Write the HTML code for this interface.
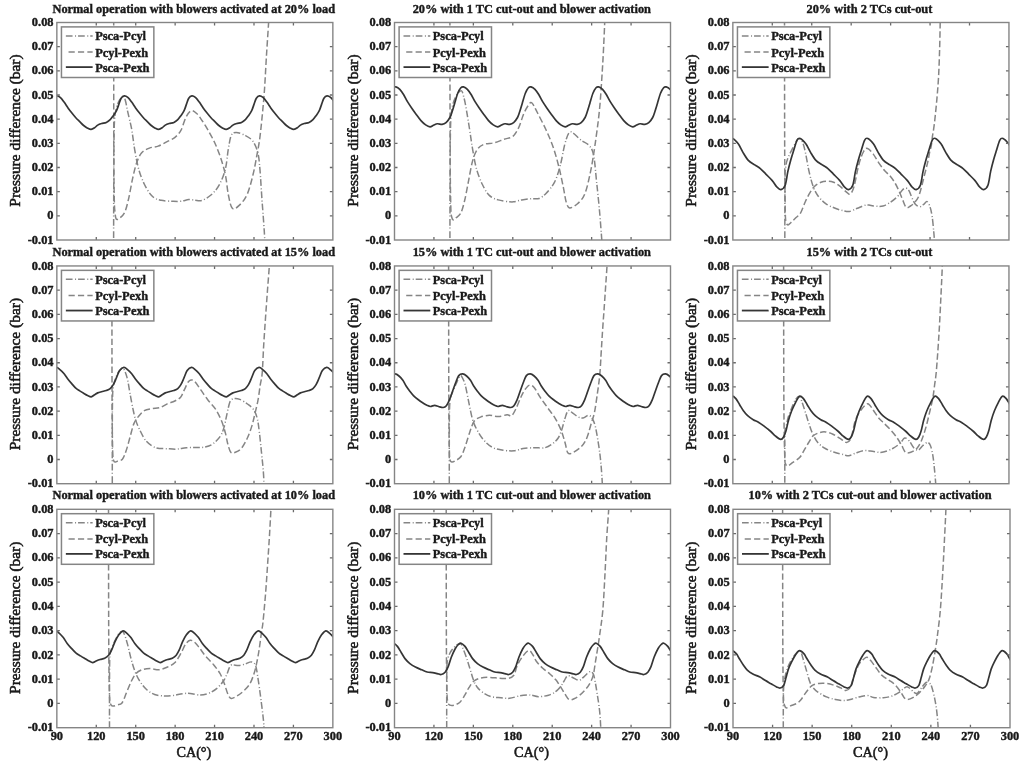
<!DOCTYPE html>
<html><head><meta charset="utf-8"><style>
html,body{margin:0;padding:0;background:#fff;width:1024px;height:761px;overflow:hidden}
svg{display:block}
text{fill:#1a1a1a;stroke:#1a1a1a;stroke-width:0.4px}
</style></head><body>
<svg width="1024" height="761" viewBox="0 0 1024 761" style="font-family:'Liberation Serif',serif;font-weight:bold">
<defs><filter id="bl" filterUnits="userSpaceOnUse" x="0" y="0" width="1024" height="761"><feGaussianBlur stdDeviation="0.6"/></filter></defs>
<rect width="1024" height="761" fill="#fff"/>
<g filter="url(#bl)">
<clipPath id="c0"><rect x="56.85" y="22.50" width="276.00" height="217.50"/></clipPath>
<text x="193.80" y="12.50" text-anchor="middle" font-size="12.33">Normal operation with blowers activated at 20% load</text>
<text x="53.55" y="26.10" text-anchor="end" font-size="12.4">0.08</text>
<text x="53.55" y="50.27" text-anchor="end" font-size="12.4">0.07</text>
<text x="53.55" y="74.43" text-anchor="end" font-size="12.4">0.06</text>
<text x="53.55" y="98.60" text-anchor="end" font-size="12.4">0.05</text>
<text x="53.55" y="122.77" text-anchor="end" font-size="12.4">0.04</text>
<text x="53.55" y="146.93" text-anchor="end" font-size="12.4">0.03</text>
<text x="53.55" y="171.10" text-anchor="end" font-size="12.4">0.02</text>
<text x="53.55" y="195.27" text-anchor="end" font-size="12.4">0.01</text>
<text x="53.55" y="219.43" text-anchor="end" font-size="12.4">0</text>
<text x="53.55" y="243.60" text-anchor="end" font-size="12.4">-0.01</text>
<text transform="translate(20.25,130.55) rotate(-90)" text-anchor="middle" font-size="15.45" font-weight="normal" style="stroke-width:0.55px">Pressure difference (bar)</text>
<g clip-path="url(#c0)">
<path d="M113.70,10.00 C113.72,33.33 113.70,118.33 113.80,150.00 C113.90,181.67 114.10,189.67 114.30,200.00 C114.50,210.33 114.68,208.83 115.00,212.00 C115.32,215.17 115.40,218.00 116.20,219.00 C117.00,220.00 118.37,219.15 119.80,218.00 C121.23,216.85 123.32,215.38 124.80,212.10 C126.28,208.82 127.40,203.88 128.70,198.30 C130.00,192.72 131.28,184.50 132.60,178.60 C133.92,172.70 135.12,167.17 136.60,162.90 C138.08,158.63 139.37,155.47 141.50,153.00 C143.63,150.53 146.62,149.25 149.40,148.10 C152.18,146.95 155.25,147.18 158.20,146.10 C161.15,145.02 164.30,143.07 167.10,141.60 C169.90,140.13 172.70,139.17 175.00,137.30 C177.30,135.43 179.10,133.68 180.90,130.40 C182.70,127.12 184.08,120.88 185.80,117.60 C187.52,114.32 189.33,111.33 191.20,110.70 C193.07,110.07 195.20,112.17 197.00,113.80 C198.80,115.43 200.23,117.90 202.00,120.50 C203.77,123.10 205.52,125.77 207.60,129.40 C209.68,133.03 212.37,137.68 214.50,142.30 C216.63,146.92 218.58,151.68 220.40,157.10 C222.22,162.52 224.08,168.57 225.40,174.80 C226.72,181.03 227.15,188.92 228.30,194.50 C229.45,200.08 230.48,206.48 232.30,208.30 C234.12,210.12 236.73,207.70 239.20,205.40 C241.67,203.10 244.80,199.60 247.10,194.50 C249.40,189.40 251.37,181.37 253.00,174.80 C254.63,168.23 255.75,161.35 256.90,155.10 C258.05,148.85 258.92,144.87 259.90,137.30 C260.88,129.73 262.02,117.92 262.80,109.70 C263.58,101.48 263.98,97.12 264.60,88.00 C265.22,78.88 265.83,65.92 266.50,55.00 C267.17,44.08 268.18,30.00 268.60,22.50 C269.02,15.00 268.93,12.08 269.00,10.00" fill="none" stroke="#858585" stroke-width="1.5" stroke-dasharray="6.4 2.9"/>
<path d="M113.60,250.00 C113.62,241.67 113.65,216.67 113.70,200.00 C113.75,183.33 113.80,162.50 113.90,150.00 C114.00,137.50 114.07,131.17 114.30,125.00 C114.53,118.83 114.77,116.42 115.30,113.00 C115.83,109.58 116.67,106.83 117.50,104.50 C118.33,102.17 119.28,100.28 120.30,99.00 C121.32,97.72 122.73,96.47 123.60,96.80 C124.47,97.13 124.82,98.52 125.50,101.00 C126.18,103.48 126.67,106.97 127.70,111.70 C128.73,116.43 130.55,123.17 131.70,129.40 C132.85,135.63 133.45,142.53 134.60,149.10 C135.75,155.67 136.95,162.90 138.60,168.80 C140.25,174.70 142.22,179.92 144.50,184.50 C146.78,189.08 149.52,193.67 152.30,196.30 C155.08,198.93 157.75,199.47 161.20,200.30 C164.65,201.13 169.72,201.13 173.00,201.30 C176.28,201.47 178.27,201.58 180.90,201.30 C183.53,201.02 186.45,199.78 188.80,199.60 C191.15,199.42 192.85,200.05 195.00,200.20 C197.15,200.35 198.93,201.45 201.70,200.50 C204.47,199.55 208.65,197.13 211.60,194.50 C214.55,191.87 217.10,188.97 219.40,184.70 C221.70,180.43 223.92,174.82 225.40,168.90 C226.88,162.98 227.32,154.78 228.30,149.20 C229.28,143.62 229.98,138.20 231.30,135.40 C232.62,132.60 233.90,132.40 236.20,132.40 C238.50,132.40 242.30,133.92 245.10,135.40 C247.90,136.88 250.87,138.35 253.00,141.30 C255.13,144.25 256.75,148.50 257.90,153.10 C259.05,157.70 259.23,161.33 259.90,168.90 C260.57,176.47 261.25,189.30 261.90,198.50 C262.55,207.70 263.32,217.18 263.80,224.10 C264.28,231.02 264.57,235.68 264.80,240.00 C265.03,244.32 265.13,248.33 265.20,250.00" fill="none" stroke="#858585" stroke-width="1.5" stroke-dasharray="6.7 2.5 1 2"/>
<path d="M42.61,119.60 C43.13,118.95 44.66,117.18 45.71,115.70 C46.76,114.22 47.99,112.58 48.91,110.70 C49.83,108.82 50.44,106.48 51.21,104.40 C51.99,102.32 52.64,99.63 53.56,98.20 C54.48,96.77 55.60,95.93 56.71,95.80 C57.82,95.67 58.98,96.35 60.21,97.40 C61.44,98.45 62.81,100.35 64.11,102.10 C65.41,103.85 66.71,106.08 68.01,107.90 C69.31,109.72 70.61,111.37 71.91,113.00 C73.21,114.63 74.51,116.27 75.81,117.70 C77.11,119.13 78.40,120.30 79.71,121.60 C81.01,122.90 82.34,124.40 83.66,125.50 C84.97,126.60 86.36,127.55 87.61,128.20 C88.85,128.85 89.94,129.47 91.10,129.40 C92.27,129.33 93.50,128.52 94.60,127.80 C95.70,127.08 96.54,125.82 97.70,125.10 C98.87,124.38 100.17,123.95 101.60,123.50 C103.04,123.05 104.87,123.05 106.30,122.40 C107.74,121.75 109.04,120.72 110.20,119.60 C111.37,118.48 112.25,117.18 113.30,115.70 C114.35,114.22 115.58,112.58 116.50,110.70 C117.42,108.82 118.03,106.48 118.80,104.40 C119.58,102.32 120.23,99.63 121.15,98.20 C122.07,96.77 123.19,95.93 124.30,95.80 C125.41,95.67 126.57,96.35 127.80,97.40 C129.03,98.45 130.40,100.35 131.70,102.10 C133.00,103.85 134.30,106.08 135.60,107.90 C136.90,109.72 138.20,111.37 139.50,113.00 C140.80,114.63 142.10,116.27 143.40,117.70 C144.70,119.13 145.99,120.30 147.30,121.60 C148.60,122.90 149.93,124.40 151.25,125.50 C152.56,126.60 153.95,127.55 155.20,128.20 C156.44,128.85 157.53,129.47 158.69,129.40 C159.86,129.33 161.09,128.52 162.19,127.80 C163.29,127.08 164.13,125.82 165.29,125.10 C166.46,124.38 167.76,123.95 169.19,123.50 C170.63,123.05 172.46,123.05 173.89,122.40 C175.33,121.75 176.63,120.72 177.79,119.60 C178.96,118.48 179.84,117.18 180.89,115.70 C181.94,114.22 183.17,112.58 184.09,110.70 C185.01,108.82 185.62,106.48 186.39,104.40 C187.17,102.32 187.82,99.63 188.74,98.20 C189.66,96.77 190.78,95.93 191.89,95.80 C193.00,95.67 194.16,96.35 195.39,97.40 C196.62,98.45 197.99,100.35 199.29,102.10 C200.59,103.85 201.89,106.08 203.19,107.90 C204.49,109.72 205.79,111.37 207.09,113.00 C208.39,114.63 209.69,116.27 210.99,117.70 C212.29,119.13 213.58,120.30 214.89,121.60 C216.19,122.90 217.52,124.40 218.84,125.50 C220.15,126.60 221.54,127.55 222.79,128.20 C224.03,128.85 225.12,129.47 226.28,129.40 C227.45,129.33 228.68,128.52 229.78,127.80 C230.88,127.08 231.72,125.82 232.88,125.10 C234.05,124.38 235.35,123.95 236.78,123.50 C238.22,123.05 240.05,123.05 241.48,122.40 C242.92,121.75 244.22,120.72 245.38,119.60 C246.55,118.48 247.43,117.18 248.48,115.70 C249.53,114.22 250.76,112.58 251.68,110.70 C252.60,108.82 253.21,106.48 253.98,104.40 C254.76,102.32 255.41,99.63 256.33,98.20 C257.25,96.77 258.37,95.93 259.48,95.80 C260.59,95.67 261.75,96.35 262.98,97.40 C264.21,98.45 265.58,100.35 266.88,102.10 C268.18,103.85 269.48,106.08 270.78,107.90 C272.08,109.72 273.38,111.37 274.68,113.00 C275.98,114.63 277.28,116.27 278.58,117.70 C279.88,119.13 281.17,120.30 282.48,121.60 C283.78,122.90 285.11,124.40 286.43,125.50 C287.74,126.60 289.13,127.55 290.38,128.20 C291.62,128.85 292.71,129.47 293.87,129.40 C295.04,129.33 296.27,128.52 297.37,127.80 C298.47,127.08 299.31,125.82 300.47,125.10 C301.64,124.38 302.94,123.95 304.37,123.50 C305.81,123.05 307.64,123.05 309.07,122.40 C310.51,121.75 311.81,120.72 312.97,119.60 C314.14,118.48 315.02,117.18 316.07,115.70 C317.12,114.22 318.35,112.58 319.27,110.70 C320.19,108.82 320.80,106.48 321.57,104.40 C322.35,102.32 323.00,99.63 323.92,98.20 C324.84,96.77 325.96,95.93 327.07,95.80 C328.18,95.67 329.34,96.35 330.57,97.40 C331.80,98.45 333.17,100.35 334.47,102.10 C335.77,103.85 337.07,106.08 338.37,107.90 C339.67,109.72 340.97,111.37 342.27,113.00 C343.57,114.63 345.52,116.92 346.17,117.70" fill="none" stroke="#363636" stroke-width="1.7"/>
</g>
<path d="M96.28,240.00v-3M96.28,22.50v3M135.71,240.00v-3M135.71,22.50v3M175.14,240.00v-3M175.14,22.50v3M214.56,240.00v-3M214.56,22.50v3M253.99,240.00v-3M253.99,22.50v3M293.42,240.00v-3M293.42,22.50v3M56.85,46.67h3M332.85,46.67h-3M56.85,70.83h3M332.85,70.83h-3M56.85,95.00h3M332.85,95.00h-3M56.85,119.17h3M332.85,119.17h-3M56.85,143.33h3M332.85,143.33h-3M56.85,167.50h3M332.85,167.50h-3M56.85,191.67h3M332.85,191.67h-3M56.85,215.83h3M332.85,215.83h-3" stroke="#6a6a6a" stroke-width="1.3" fill="none"/>
<rect x="56.85" y="22.50" width="276.00" height="217.50" fill="none" stroke="#858585" stroke-width="1.4"/>
<rect x="61.45" y="26.90" width="92.4" height="50.6" fill="#fff" stroke="#858585" stroke-width="1.5"/>
<path d="M65.85,35.90H92.65" stroke="#858585" stroke-width="1.5" stroke-dasharray="6.7 2.5 1 2"/>
<text x="95.15" y="40.40" font-size="12.4">Psca-Pcyl</text>
<path d="M65.85,52.10H92.65" stroke="#858585" stroke-width="1.5" stroke-dasharray="6.2 3.2" stroke-dashoffset="6.7"/>
<text x="95.15" y="56.50" font-size="12.4">Pcyl-Pexh</text>
<path d="M65.85,67.10H92.65" stroke="#363636" stroke-width="1.8"/>
<text x="95.15" y="71.60" font-size="12.4">Psca-Pexh</text>
<clipPath id="c1"><rect x="394.50" y="22.50" width="276.00" height="217.50"/></clipPath>
<text x="531.80" y="12.50" text-anchor="middle" font-size="12.33">20% with 1 TC cut-out and blower activation</text>
<text x="391.20" y="26.10" text-anchor="end" font-size="12.4">0.08</text>
<text x="391.20" y="50.27" text-anchor="end" font-size="12.4">0.07</text>
<text x="391.20" y="74.43" text-anchor="end" font-size="12.4">0.06</text>
<text x="391.20" y="98.60" text-anchor="end" font-size="12.4">0.05</text>
<text x="391.20" y="122.77" text-anchor="end" font-size="12.4">0.04</text>
<text x="391.20" y="146.93" text-anchor="end" font-size="12.4">0.03</text>
<text x="391.20" y="171.10" text-anchor="end" font-size="12.4">0.02</text>
<text x="391.20" y="195.27" text-anchor="end" font-size="12.4">0.01</text>
<text x="391.20" y="219.43" text-anchor="end" font-size="12.4">0</text>
<text x="391.20" y="243.60" text-anchor="end" font-size="12.4">-0.01</text>
<text transform="translate(357.90,130.55) rotate(-90)" text-anchor="middle" font-size="15.45" font-weight="normal" style="stroke-width:0.55px">Pressure difference (bar)</text>
<g clip-path="url(#c1)">
<path d="M449.90,10.00 C449.94,33.33 449.99,117.50 450.13,150.00 C450.27,182.50 450.49,193.83 450.75,205.00 C451.01,216.17 451.22,214.50 451.68,217.00 C452.14,219.50 452.81,219.83 453.50,220.00 C454.19,220.17 454.58,219.15 455.80,218.00 C457.02,216.85 459.32,216.05 460.80,213.10 C462.28,210.15 463.40,205.72 464.70,200.30 C466.00,194.88 467.28,187.17 468.60,180.60 C469.92,174.03 471.12,166.15 472.60,160.90 C474.08,155.65 475.53,151.88 477.50,149.10 C479.47,146.32 481.62,145.25 484.40,144.20 C487.18,143.15 490.92,143.63 494.20,142.80 C497.48,141.97 500.98,140.28 504.10,139.20 C507.22,138.12 510.45,138.27 512.90,136.30 C515.35,134.33 516.98,131.18 518.80,127.40 C520.62,123.62 522.15,117.37 523.80,113.60 C525.45,109.83 527.33,106.57 528.70,104.80 C530.07,103.03 530.57,101.72 532.00,103.00 C533.43,104.28 534.97,108.03 537.30,112.50 C539.63,116.97 543.35,124.02 546.00,129.80 C548.65,135.58 551.03,140.93 553.20,147.20 C555.37,153.47 557.30,160.67 559.00,167.40 C560.70,174.13 562.20,181.82 563.40,187.60 C564.60,193.38 565.15,198.72 566.20,202.10 C567.25,205.48 567.77,207.67 569.70,207.90 C571.63,208.13 575.25,205.92 577.80,203.50 C580.35,201.08 582.83,198.93 585.00,193.40 C587.17,187.87 589.12,178.48 590.80,170.30 C592.48,162.12 593.65,154.42 595.10,144.30 C596.55,134.18 598.28,122.13 599.50,109.60 C600.72,97.07 601.68,80.18 602.40,69.10 C603.12,58.02 603.42,50.87 603.80,43.10 C604.18,35.33 604.50,28.02 604.70,22.50 C604.90,16.98 604.95,12.08 605.00,10.00" fill="none" stroke="#858585" stroke-width="1.5" stroke-dasharray="6.4 2.9"/>
<path d="M449.90,250.00 C449.92,241.67 449.95,216.67 450.00,200.00 C450.05,183.33 450.07,163.33 450.20,150.00 C450.33,136.67 450.42,127.33 450.80,120.00 C451.18,112.67 451.72,109.83 452.50,106.00 C453.28,102.17 454.50,99.25 455.50,97.00 C456.50,94.75 457.47,93.50 458.50,92.50 C459.53,91.50 460.87,90.42 461.70,91.00 C462.53,91.58 462.83,93.53 463.50,96.00 C464.17,98.47 464.68,100.23 465.70,105.80 C466.72,111.37 468.45,122.18 469.60,129.40 C470.75,136.62 471.45,142.53 472.60,149.10 C473.75,155.67 474.87,162.90 476.50,168.80 C478.13,174.70 480.27,180.07 482.40,184.50 C484.53,188.93 486.67,192.83 489.30,195.40 C491.93,197.97 494.42,198.82 498.20,199.90 C501.98,200.98 508.07,201.90 512.00,201.90 C515.93,201.90 518.53,200.43 521.80,199.90 C525.07,199.37 528.73,198.93 531.60,198.70 C534.47,198.47 536.60,199.38 539.00,198.50 C541.40,197.62 543.38,196.18 546.00,193.40 C548.62,190.62 552.28,186.62 554.70,181.80 C557.12,176.98 558.82,170.75 560.50,164.50 C562.18,158.25 563.37,149.60 564.80,144.30 C566.23,139.00 567.65,134.53 569.10,132.70 C570.55,130.87 571.57,132.10 573.50,133.30 C575.43,134.50 578.05,137.83 580.70,139.90 C583.35,141.97 587.23,143.05 589.40,145.70 C591.57,148.35 592.50,149.78 593.70,155.80 C594.90,161.82 595.63,172.63 596.60,181.80 C597.57,190.97 598.63,201.10 599.50,210.80 C600.37,220.50 601.30,233.47 601.80,240.00 C602.30,246.53 602.38,248.33 602.50,250.00" fill="none" stroke="#858585" stroke-width="1.5" stroke-dasharray="6.7 2.5 1 2"/>
<path d="M382.34,117.50 C382.73,116.46 383.86,113.60 384.65,111.25 C385.43,108.90 386.14,106.39 387.06,103.40 C387.97,100.41 389.13,95.90 390.16,93.30 C391.20,90.70 392.32,88.86 393.27,87.80 C394.23,86.74 394.79,86.68 395.88,86.95 C396.97,87.22 398.49,88.09 399.79,89.40 C401.09,90.71 402.40,92.72 403.70,94.80 C405.01,96.88 406.18,99.55 407.61,101.90 C409.05,104.25 410.89,106.82 412.33,108.90 C413.76,110.98 414.80,112.45 416.24,114.40 C417.67,116.35 419.38,118.85 420.95,120.60 C422.52,122.35 424.16,123.85 425.66,124.90 C427.17,125.95 428.67,126.83 429.98,126.90 C431.28,126.97 432.25,125.83 433.49,125.30 C434.72,124.77 435.96,123.90 437.40,123.75 C438.83,123.60 440.67,124.59 442.11,124.40 C443.55,124.21 444.72,123.75 446.02,122.60 C447.32,121.45 448.90,119.39 449.93,117.50 C450.97,115.61 451.45,113.60 452.24,111.25 C453.02,108.90 453.73,106.39 454.65,103.40 C455.56,100.41 456.72,95.90 457.75,93.30 C458.79,90.70 459.91,88.86 460.86,87.80 C461.82,86.74 462.38,86.68 463.47,86.95 C464.56,87.22 466.08,88.09 467.38,89.40 C468.68,90.71 469.99,92.72 471.29,94.80 C472.60,96.88 473.77,99.55 475.20,101.90 C476.64,104.25 478.48,106.82 479.92,108.90 C481.35,110.98 482.39,112.45 483.83,114.40 C485.26,116.35 486.97,118.85 488.54,120.60 C490.11,122.35 491.75,123.85 493.25,124.90 C494.76,125.95 496.26,126.83 497.57,126.90 C498.87,126.97 499.84,125.83 501.08,125.30 C502.31,124.77 503.55,123.90 504.99,123.75 C506.42,123.60 508.26,124.59 509.70,124.40 C511.14,124.21 512.31,123.75 513.61,122.60 C514.91,121.45 516.49,119.39 517.52,117.50 C518.56,115.61 519.04,113.60 519.83,111.25 C520.61,108.90 521.32,106.39 522.24,103.40 C523.15,100.41 524.31,95.90 525.34,93.30 C526.38,90.70 527.50,88.86 528.45,87.80 C529.41,86.74 529.97,86.68 531.06,86.95 C532.15,87.22 533.67,88.09 534.97,89.40 C536.27,90.71 537.58,92.72 538.88,94.80 C540.19,96.88 541.36,99.55 542.79,101.90 C544.23,104.25 546.07,106.82 547.51,108.90 C548.94,110.98 549.98,112.45 551.42,114.40 C552.85,116.35 554.56,118.85 556.13,120.60 C557.70,122.35 559.34,123.85 560.84,124.90 C562.35,125.95 563.85,126.83 565.16,126.90 C566.46,126.97 567.43,125.83 568.67,125.30 C569.90,124.77 571.14,123.90 572.58,123.75 C574.01,123.60 575.85,124.59 577.29,124.40 C578.73,124.21 579.90,123.75 581.20,122.60 C582.50,121.45 584.08,119.39 585.11,117.50 C586.15,115.61 586.63,113.60 587.42,111.25 C588.20,108.90 588.91,106.39 589.83,103.40 C590.74,100.41 591.90,95.90 592.93,93.30 C593.97,90.70 595.09,88.86 596.04,87.80 C597.00,86.74 597.56,86.68 598.65,86.95 C599.74,87.22 601.26,88.09 602.56,89.40 C603.86,90.71 605.17,92.72 606.47,94.80 C607.78,96.88 608.95,99.55 610.38,101.90 C611.82,104.25 613.66,106.82 615.10,108.90 C616.53,110.98 617.57,112.45 619.01,114.40 C620.44,116.35 622.15,118.85 623.72,120.60 C625.29,122.35 626.93,123.85 628.43,124.90 C629.94,125.95 631.44,126.83 632.75,126.90 C634.05,126.97 635.02,125.83 636.26,125.30 C637.49,124.77 638.73,123.90 640.17,123.75 C641.60,123.60 643.44,124.59 644.88,124.40 C646.32,124.21 647.49,123.75 648.79,122.60 C650.09,121.45 651.67,119.39 652.70,117.50 C653.74,115.61 654.22,113.60 655.01,111.25 C655.79,108.90 656.50,106.39 657.42,103.40 C658.33,100.41 659.49,95.90 660.52,93.30 C661.56,90.70 662.68,88.86 663.63,87.80 C664.59,86.74 665.15,86.68 666.24,86.95 C667.33,87.22 668.85,88.09 670.15,89.40 C671.45,90.71 672.76,92.72 674.06,94.80 C675.37,96.88 676.54,99.55 677.97,101.90 C679.41,104.25 681.90,107.73 682.69,108.90" fill="none" stroke="#363636" stroke-width="1.7"/>
</g>
<path d="M433.93,240.00v-3M433.93,22.50v3M473.36,240.00v-3M473.36,22.50v3M512.79,240.00v-3M512.79,22.50v3M552.21,240.00v-3M552.21,22.50v3M591.64,240.00v-3M591.64,22.50v3M631.07,240.00v-3M631.07,22.50v3M394.50,46.67h3M670.50,46.67h-3M394.50,70.83h3M670.50,70.83h-3M394.50,95.00h3M670.50,95.00h-3M394.50,119.17h3M670.50,119.17h-3M394.50,143.33h3M670.50,143.33h-3M394.50,167.50h3M670.50,167.50h-3M394.50,191.67h3M670.50,191.67h-3M394.50,215.83h3M670.50,215.83h-3" stroke="#6a6a6a" stroke-width="1.3" fill="none"/>
<rect x="394.50" y="22.50" width="276.00" height="217.50" fill="none" stroke="#858585" stroke-width="1.4"/>
<rect x="399.10" y="26.90" width="92.4" height="50.6" fill="#fff" stroke="#858585" stroke-width="1.5"/>
<path d="M403.50,35.90H430.30" stroke="#858585" stroke-width="1.5" stroke-dasharray="6.7 2.5 1 2"/>
<text x="432.80" y="40.40" font-size="12.4">Psca-Pcyl</text>
<path d="M403.50,52.10H430.30" stroke="#858585" stroke-width="1.5" stroke-dasharray="6.2 3.2" stroke-dashoffset="6.7"/>
<text x="432.80" y="56.50" font-size="12.4">Pcyl-Pexh</text>
<path d="M403.50,67.10H430.30" stroke="#363636" stroke-width="1.8"/>
<text x="432.80" y="71.60" font-size="12.4">Psca-Pexh</text>
<clipPath id="c2"><rect x="732.85" y="22.50" width="276.10" height="217.50"/></clipPath>
<text x="869.45" y="12.50" text-anchor="middle" font-size="12.33">20% with 2 TCs cut-out</text>
<text x="729.55" y="26.10" text-anchor="end" font-size="12.4">0.08</text>
<text x="729.55" y="50.27" text-anchor="end" font-size="12.4">0.07</text>
<text x="729.55" y="74.43" text-anchor="end" font-size="12.4">0.06</text>
<text x="729.55" y="98.60" text-anchor="end" font-size="12.4">0.05</text>
<text x="729.55" y="122.77" text-anchor="end" font-size="12.4">0.04</text>
<text x="729.55" y="146.93" text-anchor="end" font-size="12.4">0.03</text>
<text x="729.55" y="171.10" text-anchor="end" font-size="12.4">0.02</text>
<text x="729.55" y="195.27" text-anchor="end" font-size="12.4">0.01</text>
<text x="729.55" y="219.43" text-anchor="end" font-size="12.4">0</text>
<text x="729.55" y="243.60" text-anchor="end" font-size="12.4">-0.01</text>
<text transform="translate(696.25,130.55) rotate(-90)" text-anchor="middle" font-size="15.45" font-weight="normal" style="stroke-width:0.55px">Pressure difference (bar)</text>
<g clip-path="url(#c2)">
<path d="M784.50,10.00 C784.53,33.33 784.57,116.67 784.69,150.00 C784.82,183.33 785.02,198.00 785.25,210.00 C785.48,222.00 785.61,219.52 786.07,222.00 C786.53,224.48 787.18,224.82 788.00,224.90 C788.82,224.98 789.70,223.68 791.00,222.50 C792.30,221.32 794.22,219.37 795.80,217.80 C797.38,216.23 798.93,215.73 800.50,213.10 C802.07,210.47 803.62,205.42 805.20,202.00 C806.78,198.58 808.42,195.23 810.00,192.60 C811.58,189.97 812.87,187.92 814.70,186.20 C816.53,184.48 818.90,183.13 821.00,182.30 C823.10,181.47 825.20,181.20 827.30,181.20 C829.40,181.20 831.50,181.47 833.60,182.30 C835.70,183.13 837.80,184.62 839.90,186.20 C842.00,187.78 844.48,190.48 846.20,191.80 C847.92,193.12 848.88,195.03 850.20,194.10 C851.52,193.17 852.65,191.18 854.10,186.20 C855.55,181.22 857.32,169.98 858.90,164.20 C860.48,158.42 862.17,154.13 863.60,151.50 C865.03,148.87 865.92,148.00 867.50,148.40 C869.08,148.80 871.25,151.53 873.10,153.90 C874.95,156.27 876.70,159.83 878.60,162.60 C880.50,165.37 882.55,168.22 884.50,170.50 C886.45,172.78 888.50,174.13 890.30,176.30 C892.10,178.47 893.87,181.08 895.30,183.50 C896.73,185.92 897.70,188.15 898.90,190.80 C900.10,193.45 901.28,196.63 902.50,199.40 C903.72,202.17 904.87,206.30 906.20,207.40 C907.53,208.50 909.07,206.85 910.50,206.00 C911.93,205.15 913.48,203.80 914.80,202.30 C916.12,200.80 917.33,199.37 918.40,197.00 C919.47,194.63 920.37,191.07 921.20,188.10 C922.03,185.13 922.65,182.18 923.40,179.20 C924.15,176.22 924.95,173.18 925.70,170.20 C926.45,167.22 927.25,164.28 927.90,161.30 C928.55,158.32 929.03,154.92 929.60,152.30 C930.17,149.68 930.83,148.20 931.30,145.60 C931.77,143.00 932.03,139.30 932.40,136.70 C932.77,134.10 933.10,132.78 933.50,130.00 C933.90,127.22 934.25,125.00 934.80,120.00 C935.35,115.00 936.18,107.03 936.80,100.00 C937.42,92.97 938.03,86.13 938.50,77.80 C938.97,69.47 939.32,59.22 939.60,50.00 C939.88,40.78 940.07,29.17 940.20,22.50 C940.33,15.83 940.37,12.08 940.40,10.00" fill="none" stroke="#858585" stroke-width="1.5" stroke-dasharray="6.4 2.9"/>
<path d="M784.80,250.00 C784.82,241.67 784.85,212.50 784.90,200.00 C784.95,187.50 784.92,180.83 785.10,175.00 C785.28,169.17 785.53,167.83 786.00,165.00 C786.47,162.17 786.80,160.77 787.90,158.00 C789.00,155.23 791.02,151.45 792.60,148.40 C794.18,145.35 796.22,141.28 797.40,139.70 C798.58,138.12 798.85,138.52 799.70,138.90 C800.55,139.28 801.58,139.90 802.50,142.00 C803.42,144.10 804.08,146.48 805.20,151.50 C806.32,156.52 807.88,166.32 809.20,172.10 C810.52,177.88 811.65,182.27 813.10,186.20 C814.55,190.13 815.80,192.80 817.90,195.70 C820.00,198.60 822.82,201.50 825.70,203.60 C828.58,205.70 832.30,207.12 835.20,208.30 C838.10,209.48 840.73,210.17 843.10,210.70 C845.47,211.23 847.03,211.90 849.40,211.50 C851.77,211.10 854.67,209.35 857.30,208.30 C859.93,207.25 863.08,205.72 865.20,205.20 C867.32,204.68 868.23,205.03 870.00,205.20 C871.77,205.37 873.63,206.07 875.80,206.20 C877.97,206.33 880.58,206.65 883.00,206.00 C885.42,205.35 887.88,203.88 890.30,202.30 C892.72,200.72 895.58,198.42 897.50,196.50 C899.42,194.58 900.48,192.23 901.80,190.80 C903.12,189.37 904.18,187.90 905.40,187.90 C906.62,187.90 908.00,189.12 909.10,190.80 C910.20,192.48 910.92,195.72 912.00,198.00 C913.08,200.28 914.28,203.05 915.60,204.50 C916.92,205.95 918.58,206.70 919.90,206.70 C921.22,206.70 922.30,205.35 923.50,204.50 C924.70,203.65 926.02,201.23 927.10,201.60 C928.18,201.97 929.15,204.17 930.00,206.70 C930.85,209.23 931.58,212.70 932.20,216.80 C932.82,220.90 933.33,227.43 933.70,231.30 C934.07,235.17 934.23,236.88 934.40,240.00 C934.57,243.12 934.65,248.33 934.70,250.00" fill="none" stroke="#858585" stroke-width="1.5" stroke-dasharray="6.7 2.5 1 2"/>
<path d="M720.29,171.40 C720.76,169.55 722.16,163.68 723.10,160.30 C724.03,156.92 724.83,154.47 725.90,151.10 C726.97,147.73 728.37,142.20 729.51,140.10 C730.64,138.00 731.26,137.88 732.71,138.50 C734.16,139.12 736.53,141.53 738.22,143.80 C739.90,146.07 741.14,149.35 742.82,152.10 C744.51,154.85 746.34,158.17 748.33,160.30 C750.32,162.43 752.74,163.52 754.74,164.90 C756.74,166.28 758.49,167.07 760.35,168.60 C762.20,170.13 763.87,172.10 765.85,174.10 C767.84,176.10 770.43,178.45 772.26,180.60 C774.10,182.75 775.42,185.50 776.87,187.00 C778.32,188.50 779.59,189.90 780.97,189.60 C782.36,189.30 784.03,188.23 785.18,185.20 C786.33,182.17 786.97,175.55 787.88,171.40 C788.80,167.25 789.75,163.68 790.69,160.30 C791.62,156.92 792.42,154.47 793.49,151.10 C794.56,147.73 795.96,142.20 797.10,140.10 C798.23,138.00 798.85,137.88 800.30,138.50 C801.75,139.12 804.12,141.53 805.81,143.80 C807.49,146.07 808.73,149.35 810.41,152.10 C812.10,154.85 813.93,158.17 815.92,160.30 C817.91,162.43 820.33,163.52 822.33,164.90 C824.33,166.28 826.08,167.07 827.94,168.60 C829.79,170.13 831.46,172.10 833.44,174.10 C835.43,176.10 838.02,178.45 839.85,180.60 C841.69,182.75 843.01,185.50 844.46,187.00 C845.91,188.50 847.18,189.90 848.56,189.60 C849.95,189.30 851.62,188.23 852.77,185.20 C853.92,182.17 854.56,175.55 855.47,171.40 C856.39,167.25 857.34,163.68 858.28,160.30 C859.21,156.92 860.01,154.47 861.08,151.10 C862.15,147.73 863.55,142.20 864.69,140.10 C865.82,138.00 866.44,137.88 867.89,138.50 C869.34,139.12 871.71,141.53 873.40,143.80 C875.08,146.07 876.32,149.35 878.00,152.10 C879.69,154.85 881.52,158.17 883.51,160.30 C885.50,162.43 887.92,163.52 889.92,164.90 C891.92,166.28 893.67,167.07 895.53,168.60 C897.38,170.13 899.05,172.10 901.03,174.10 C903.02,176.10 905.61,178.45 907.44,180.60 C909.28,182.75 910.60,185.50 912.05,187.00 C913.50,188.50 914.77,189.90 916.15,189.60 C917.54,189.30 919.21,188.23 920.36,185.20 C921.51,182.17 922.15,175.55 923.06,171.40 C923.98,167.25 924.93,163.68 925.87,160.30 C926.80,156.92 927.60,154.47 928.67,151.10 C929.74,147.73 931.14,142.20 932.28,140.10 C933.41,138.00 934.03,137.88 935.48,138.50 C936.93,139.12 939.30,141.53 940.99,143.80 C942.67,146.07 943.91,149.35 945.59,152.10 C947.28,154.85 949.11,158.17 951.10,160.30 C953.09,162.43 955.51,163.52 957.51,164.90 C959.51,166.28 961.26,167.07 963.12,168.60 C964.97,170.13 966.64,172.10 968.62,174.10 C970.61,176.10 973.20,178.45 975.03,180.60 C976.87,182.75 978.19,185.50 979.64,187.00 C981.09,188.50 982.36,189.90 983.74,189.60 C985.13,189.30 986.80,188.23 987.95,185.20 C989.10,182.17 989.74,175.55 990.65,171.40 C991.57,167.25 992.52,163.68 993.46,160.30 C994.39,156.92 995.19,154.47 996.26,151.10 C997.33,147.73 998.73,142.20 999.87,140.10 C1001.00,138.00 1001.62,137.88 1003.07,138.50 C1004.52,139.12 1006.89,141.53 1008.58,143.80 C1010.26,146.07 1011.50,149.35 1013.18,152.10 C1014.87,154.85 1017.77,158.93 1018.69,160.30" fill="none" stroke="#363636" stroke-width="1.7"/>
</g>
<path d="M772.29,240.00v-3M772.29,22.50v3M811.74,240.00v-3M811.74,22.50v3M851.18,240.00v-3M851.18,22.50v3M890.62,240.00v-3M890.62,22.50v3M930.06,240.00v-3M930.06,22.50v3M969.51,240.00v-3M969.51,22.50v3M732.85,46.67h3M1008.95,46.67h-3M732.85,70.83h3M1008.95,70.83h-3M732.85,95.00h3M1008.95,95.00h-3M732.85,119.17h3M1008.95,119.17h-3M732.85,143.33h3M1008.95,143.33h-3M732.85,167.50h3M1008.95,167.50h-3M732.85,191.67h3M1008.95,191.67h-3M732.85,215.83h3M1008.95,215.83h-3" stroke="#6a6a6a" stroke-width="1.3" fill="none"/>
<rect x="732.85" y="22.50" width="276.10" height="217.50" fill="none" stroke="#858585" stroke-width="1.4"/>
<rect x="737.45" y="26.90" width="92.4" height="50.6" fill="#fff" stroke="#858585" stroke-width="1.5"/>
<path d="M741.85,35.90H768.65" stroke="#858585" stroke-width="1.5" stroke-dasharray="6.7 2.5 1 2"/>
<text x="771.15" y="40.40" font-size="12.4">Psca-Pcyl</text>
<path d="M741.85,52.10H768.65" stroke="#858585" stroke-width="1.5" stroke-dasharray="6.2 3.2" stroke-dashoffset="6.7"/>
<text x="771.15" y="56.50" font-size="12.4">Pcyl-Pexh</text>
<path d="M741.85,67.10H768.65" stroke="#363636" stroke-width="1.8"/>
<text x="771.15" y="71.60" font-size="12.4">Psca-Pexh</text>
<clipPath id="c3"><rect x="56.85" y="265.95" width="276.00" height="217.75"/></clipPath>
<text x="193.80" y="255.95" text-anchor="middle" font-size="12.33">Normal operation with blowers activated at 15% load</text>
<text x="53.55" y="269.55" text-anchor="end" font-size="12.4">0.08</text>
<text x="53.55" y="293.74" text-anchor="end" font-size="12.4">0.07</text>
<text x="53.55" y="317.94" text-anchor="end" font-size="12.4">0.06</text>
<text x="53.55" y="342.13" text-anchor="end" font-size="12.4">0.05</text>
<text x="53.55" y="366.33" text-anchor="end" font-size="12.4">0.04</text>
<text x="53.55" y="390.52" text-anchor="end" font-size="12.4">0.03</text>
<text x="53.55" y="414.72" text-anchor="end" font-size="12.4">0.02</text>
<text x="53.55" y="438.91" text-anchor="end" font-size="12.4">0.01</text>
<text x="53.55" y="463.11" text-anchor="end" font-size="12.4">0</text>
<text x="53.55" y="487.30" text-anchor="end" font-size="12.4">-0.01</text>
<text transform="translate(20.25,374.12) rotate(-90)" text-anchor="middle" font-size="15.45" font-weight="normal" style="stroke-width:0.55px">Pressure difference (bar)</text>
<g clip-path="url(#c3)">
<path d="M111.90,255.00 C111.93,279.17 111.94,367.50 112.07,400.00 C112.19,432.50 112.39,439.92 112.65,450.00 C112.91,460.08 113.15,458.50 113.62,460.50 C114.09,462.50 114.84,461.90 115.50,462.00 C116.16,462.10 116.45,461.57 117.60,461.10 C118.75,460.63 120.97,460.95 122.40,459.20 C123.83,457.45 124.93,454.25 126.20,450.60 C127.47,446.95 128.73,441.75 130.00,437.30 C131.27,432.85 132.37,427.40 133.80,423.90 C135.23,420.40 136.85,418.52 138.60,416.30 C140.35,414.08 142.07,411.88 144.30,410.60 C146.53,409.32 149.45,409.08 152.00,408.60 C154.55,408.12 157.07,408.48 159.60,407.70 C162.13,406.92 164.67,405.02 167.20,403.90 C169.73,402.78 172.57,402.12 174.80,401.00 C177.03,399.88 179.00,399.10 180.60,397.20 C182.20,395.30 183.13,392.13 184.40,389.60 C185.67,387.07 187.10,383.60 188.20,382.00 C189.30,380.40 189.95,380.12 191.00,380.00 C192.05,379.88 192.90,379.70 194.50,381.30 C196.10,382.90 198.33,386.45 200.60,389.60 C202.87,392.75 205.58,396.92 208.10,400.20 C210.62,403.48 213.43,405.78 215.70,409.30 C217.97,412.82 220.07,417.28 221.70,421.30 C223.33,425.32 224.48,429.62 225.50,433.40 C226.52,437.18 226.92,440.85 227.80,444.00 C228.68,447.15 229.55,450.92 230.80,452.30 C232.05,453.68 233.55,452.93 235.30,452.30 C237.05,451.67 239.28,450.88 241.30,448.50 C243.32,446.12 245.63,441.77 247.40,438.00 C249.17,434.23 250.65,429.93 251.90,425.90 C253.15,421.87 253.88,418.08 254.90,413.80 C255.92,409.52 257.12,404.98 258.00,400.20 C258.88,395.42 259.50,389.63 260.20,385.10 C260.90,380.57 261.62,379.68 262.20,373.00 C262.78,366.32 263.15,354.17 263.70,345.00 C264.25,335.83 264.87,327.17 265.50,318.00 C266.13,308.83 266.87,298.67 267.50,290.00 C268.13,281.33 268.97,271.83 269.30,266.00 C269.63,260.17 269.47,256.83 269.50,255.00" fill="none" stroke="#858585" stroke-width="1.5" stroke-dasharray="6.4 2.9"/>
<path d="M112.30,495.00 C112.30,485.83 112.27,455.83 112.30,440.00 C112.33,424.17 112.33,408.83 112.50,400.00 C112.67,391.17 112.77,390.67 113.30,387.00 C113.83,383.33 114.75,380.58 115.70,378.00 C116.65,375.42 117.73,373.07 119.00,371.50 C120.27,369.93 121.93,367.50 123.30,368.60 C124.67,369.70 126.08,373.97 127.20,378.10 C128.32,382.23 129.05,388.32 130.00,393.40 C130.95,398.48 131.95,404.15 132.90,408.60 C133.85,413.05 134.58,416.60 135.70,420.10 C136.82,423.60 137.85,426.10 139.60,429.60 C141.35,433.10 143.50,438.08 146.20,441.10 C148.90,444.12 152.30,446.43 155.80,447.70 C159.30,448.97 163.72,448.47 167.20,448.70 C170.68,448.93 173.52,449.27 176.70,449.10 C179.88,448.93 182.80,447.97 186.30,447.70 C189.80,447.43 194.57,447.62 197.70,447.50 C200.83,447.38 202.60,447.58 205.10,447.00 C207.60,446.42 210.18,445.77 212.70,444.00 C215.22,442.23 218.32,439.17 220.20,436.40 C222.08,433.63 222.87,431.17 224.00,427.40 C225.13,423.63 226.00,418.08 227.00,413.80 C228.00,409.52 228.87,404.22 230.00,401.70 C231.13,399.18 232.17,399.08 233.80,398.70 C235.43,398.32 237.53,398.52 239.80,399.40 C242.07,400.28 245.13,402.35 247.40,404.00 C249.67,405.65 251.77,406.92 253.40,409.30 C255.03,411.68 256.18,414.28 257.20,418.30 C258.22,422.32 258.75,427.35 259.50,433.40 C260.25,439.45 261.08,448.55 261.70,454.60 C262.32,460.65 262.82,464.88 263.20,469.70 C263.58,474.52 263.83,479.28 264.00,483.50 C264.17,487.72 264.17,493.08 264.20,495.00" fill="none" stroke="#858585" stroke-width="1.5" stroke-dasharray="6.7 2.5 1 2"/>
<path d="M42.61,388.60 C43.13,387.95 44.66,386.52 45.71,384.70 C46.76,382.88 47.86,380.05 48.91,377.70 C49.96,375.35 50.78,372.32 52.01,370.60 C53.24,368.88 54.94,367.53 56.31,367.40 C57.68,367.27 58.91,368.74 60.21,369.80 C61.51,370.86 62.81,372.18 64.11,373.75 C65.41,375.32 66.71,377.51 68.01,379.20 C69.31,380.89 70.61,382.40 71.91,383.90 C73.21,385.40 74.51,387.03 75.81,388.20 C77.11,389.37 78.40,390.05 79.71,390.90 C81.01,391.75 82.34,392.53 83.66,393.30 C84.97,394.07 86.35,394.92 87.61,395.50 C88.86,396.08 90.04,396.92 91.20,396.80 C92.37,396.68 93.52,395.45 94.60,394.80 C95.69,394.15 96.54,393.42 97.70,392.90 C98.87,392.38 100.17,392.10 101.60,391.70 C103.04,391.30 104.87,391.02 106.30,390.50 C107.74,389.98 109.04,389.57 110.20,388.60 C111.37,387.63 112.25,386.52 113.30,384.70 C114.35,382.88 115.45,380.05 116.50,377.70 C117.55,375.35 118.37,372.32 119.60,370.60 C120.83,368.88 122.53,367.53 123.90,367.40 C125.27,367.27 126.50,368.74 127.80,369.80 C129.10,370.86 130.40,372.18 131.70,373.75 C133.00,375.32 134.30,377.51 135.60,379.20 C136.90,380.89 138.20,382.40 139.50,383.90 C140.80,385.40 142.10,387.03 143.40,388.20 C144.70,389.37 145.99,390.05 147.30,390.90 C148.60,391.75 149.93,392.53 151.25,393.30 C152.56,394.07 153.94,394.92 155.20,395.50 C156.45,396.08 157.63,396.92 158.79,396.80 C159.96,396.68 161.11,395.45 162.19,394.80 C163.28,394.15 164.13,393.42 165.29,392.90 C166.46,392.38 167.76,392.10 169.19,391.70 C170.63,391.30 172.46,391.02 173.89,390.50 C175.33,389.98 176.63,389.57 177.79,388.60 C178.96,387.63 179.84,386.52 180.89,384.70 C181.94,382.88 183.04,380.05 184.09,377.70 C185.14,375.35 185.96,372.32 187.19,370.60 C188.42,368.88 190.12,367.53 191.49,367.40 C192.86,367.27 194.09,368.74 195.39,369.80 C196.69,370.86 197.99,372.18 199.29,373.75 C200.59,375.32 201.89,377.51 203.19,379.20 C204.49,380.89 205.79,382.40 207.09,383.90 C208.39,385.40 209.69,387.03 210.99,388.20 C212.29,389.37 213.58,390.05 214.89,390.90 C216.19,391.75 217.52,392.53 218.84,393.30 C220.15,394.07 221.53,394.92 222.79,395.50 C224.04,396.08 225.22,396.92 226.38,396.80 C227.55,396.68 228.70,395.45 229.78,394.80 C230.87,394.15 231.72,393.42 232.88,392.90 C234.05,392.38 235.35,392.10 236.78,391.70 C238.22,391.30 240.05,391.02 241.48,390.50 C242.92,389.98 244.22,389.57 245.38,388.60 C246.55,387.63 247.43,386.52 248.48,384.70 C249.53,382.88 250.63,380.05 251.68,377.70 C252.73,375.35 253.55,372.32 254.78,370.60 C256.01,368.88 257.71,367.53 259.08,367.40 C260.45,367.27 261.68,368.74 262.98,369.80 C264.28,370.86 265.58,372.18 266.88,373.75 C268.18,375.32 269.48,377.51 270.78,379.20 C272.08,380.89 273.38,382.40 274.68,383.90 C275.98,385.40 277.28,387.03 278.58,388.20 C279.88,389.37 281.17,390.05 282.48,390.90 C283.78,391.75 285.11,392.53 286.43,393.30 C287.74,394.07 289.12,394.92 290.38,395.50 C291.63,396.08 292.81,396.92 293.97,396.80 C295.14,396.68 296.29,395.45 297.37,394.80 C298.46,394.15 299.31,393.42 300.47,392.90 C301.64,392.38 302.94,392.10 304.37,391.70 C305.81,391.30 307.64,391.02 309.07,390.50 C310.51,389.98 311.81,389.57 312.97,388.60 C314.14,387.63 315.02,386.52 316.07,384.70 C317.12,382.88 318.22,380.05 319.27,377.70 C320.32,375.35 321.14,372.32 322.37,370.60 C323.60,368.88 325.30,367.53 326.67,367.40 C328.04,367.27 329.27,368.74 330.57,369.80 C331.87,370.86 333.17,372.18 334.47,373.75 C335.77,375.32 337.07,377.51 338.37,379.20 C339.67,380.89 340.97,382.40 342.27,383.90 C343.57,385.40 345.52,387.48 346.17,388.20" fill="none" stroke="#363636" stroke-width="1.7"/>
</g>
<path d="M96.28,483.70v-3M96.28,265.95v3M135.71,483.70v-3M135.71,265.95v3M175.14,483.70v-3M175.14,265.95v3M214.56,483.70v-3M214.56,265.95v3M253.99,483.70v-3M253.99,265.95v3M293.42,483.70v-3M293.42,265.95v3M56.85,290.14h3M332.85,290.14h-3M56.85,314.34h3M332.85,314.34h-3M56.85,338.53h3M332.85,338.53h-3M56.85,362.73h3M332.85,362.73h-3M56.85,386.92h3M332.85,386.92h-3M56.85,411.12h3M332.85,411.12h-3M56.85,435.31h3M332.85,435.31h-3M56.85,459.51h3M332.85,459.51h-3" stroke="#6a6a6a" stroke-width="1.3" fill="none"/>
<rect x="56.85" y="265.95" width="276.00" height="217.75" fill="none" stroke="#858585" stroke-width="1.4"/>
<rect x="61.45" y="270.35" width="92.4" height="50.6" fill="#fff" stroke="#858585" stroke-width="1.5"/>
<path d="M65.85,279.35H92.65" stroke="#858585" stroke-width="1.5" stroke-dasharray="6.7 2.5 1 2"/>
<text x="95.15" y="283.85" font-size="12.4">Psca-Pcyl</text>
<path d="M65.85,295.55H92.65" stroke="#858585" stroke-width="1.5" stroke-dasharray="6.2 3.2" stroke-dashoffset="6.7"/>
<text x="95.15" y="299.95" font-size="12.4">Pcyl-Pexh</text>
<path d="M65.85,310.55H92.65" stroke="#363636" stroke-width="1.8"/>
<text x="95.15" y="315.05" font-size="12.4">Psca-Pexh</text>
<clipPath id="c4"><rect x="394.50" y="265.95" width="276.00" height="217.75"/></clipPath>
<text x="531.80" y="255.95" text-anchor="middle" font-size="12.33">15% with 1 TC cut-out and blower activation</text>
<text x="391.20" y="269.55" text-anchor="end" font-size="12.4">0.08</text>
<text x="391.20" y="293.74" text-anchor="end" font-size="12.4">0.07</text>
<text x="391.20" y="317.94" text-anchor="end" font-size="12.4">0.06</text>
<text x="391.20" y="342.13" text-anchor="end" font-size="12.4">0.05</text>
<text x="391.20" y="366.33" text-anchor="end" font-size="12.4">0.04</text>
<text x="391.20" y="390.52" text-anchor="end" font-size="12.4">0.03</text>
<text x="391.20" y="414.72" text-anchor="end" font-size="12.4">0.02</text>
<text x="391.20" y="438.91" text-anchor="end" font-size="12.4">0.01</text>
<text x="391.20" y="463.11" text-anchor="end" font-size="12.4">0</text>
<text x="391.20" y="487.30" text-anchor="end" font-size="12.4">-0.01</text>
<text transform="translate(357.90,374.12) rotate(-90)" text-anchor="middle" font-size="15.45" font-weight="normal" style="stroke-width:0.55px">Pressure difference (bar)</text>
<g clip-path="url(#c4)">
<path d="M448.60,255.00 C448.63,279.17 448.69,367.50 448.81,400.00 C448.94,432.50 449.15,440.00 449.35,450.00 C449.55,460.00 449.59,458.00 450.03,460.00 C450.47,462.00 451.20,461.83 452.00,462.00 C452.80,462.17 453.30,461.92 454.80,461.00 C456.30,460.08 459.23,459.02 461.00,456.50 C462.77,453.98 463.92,450.03 465.40,445.90 C466.88,441.77 468.42,435.85 469.90,431.70 C471.38,427.55 472.53,423.43 474.30,421.00 C476.07,418.57 477.98,418.05 480.50,417.10 C483.02,416.15 486.43,415.38 489.40,415.30 C492.37,415.22 495.35,416.68 498.30,416.60 C501.25,416.52 504.88,414.95 507.10,414.80 C509.32,414.65 510.12,416.73 511.60,415.70 C513.08,414.67 514.38,411.85 516.00,408.60 C517.62,405.35 519.80,399.37 521.30,396.20 C522.80,393.03 523.63,391.45 525.00,389.60 C526.37,387.75 527.98,385.47 529.50,385.10 C531.02,384.73 532.33,385.38 534.10,387.40 C535.87,389.42 537.83,393.80 540.10,397.20 C542.37,400.60 545.18,404.28 547.70,407.80 C550.22,411.32 552.95,414.53 555.20,418.30 C557.45,422.07 559.57,426.37 561.20,430.40 C562.83,434.43 563.87,438.72 565.00,442.50 C566.13,446.28 566.62,451.47 568.00,453.10 C569.38,454.73 571.15,453.32 573.30,452.30 C575.45,451.28 578.88,448.88 580.90,447.00 C582.92,445.12 584.15,443.27 585.40,441.00 C586.65,438.73 587.40,436.42 588.40,433.40 C589.40,430.38 590.38,426.42 591.40,422.90 C592.42,419.38 593.48,417.33 594.50,412.30 C595.52,407.27 596.62,399.00 597.50,392.70 C598.38,386.40 599.18,381.23 599.80,374.50 C600.42,367.77 600.73,359.72 601.20,352.30 C601.67,344.88 602.12,337.20 602.60,330.00 C603.08,322.80 603.60,316.27 604.10,309.10 C604.60,301.93 605.12,294.18 605.60,287.00 C606.08,279.82 606.73,271.33 607.00,266.00 C607.27,260.67 607.17,256.83 607.20,255.00" fill="none" stroke="#858585" stroke-width="1.5" stroke-dasharray="6.4 2.9"/>
<path d="M449.30,495.00 C449.30,485.83 449.27,454.17 449.30,440.00 C449.33,425.83 449.30,417.00 449.50,410.00 C449.70,403.00 449.92,401.17 450.50,398.00 C451.08,394.83 452.00,393.50 453.00,391.00 C454.00,388.50 455.50,385.25 456.50,383.00 C457.50,380.75 458.25,378.72 459.00,377.50 C459.75,376.28 460.33,375.45 461.00,375.70 C461.67,375.95 462.27,377.37 463.00,379.00 C463.73,380.63 464.40,381.45 465.40,385.50 C466.40,389.55 467.82,397.68 469.00,403.30 C470.18,408.92 471.17,414.77 472.50,419.20 C473.83,423.63 475.07,426.35 477.00,429.90 C478.93,433.45 481.45,437.55 484.10,440.50 C486.75,443.45 489.65,445.97 492.90,447.60 C496.15,449.23 500.05,449.77 503.60,450.30 C507.15,450.83 510.95,451.10 514.20,450.80 C517.45,450.50 519.70,449.02 523.10,448.50 C526.50,447.98 531.02,447.82 534.60,447.70 C538.18,447.58 541.67,448.42 544.60,447.80 C547.53,447.18 549.93,445.63 552.20,444.00 C554.47,442.37 556.57,440.52 558.20,438.00 C559.83,435.48 560.87,432.18 562.00,428.90 C563.13,425.62 564.00,421.32 565.00,418.30 C566.00,415.28 566.87,411.80 568.00,410.80 C569.13,409.80 570.15,411.30 571.80,412.30 C573.45,413.30 576.02,415.85 577.90,416.80 C579.78,417.75 581.35,418.25 583.10,418.00 C584.85,417.75 586.88,415.25 588.40,415.30 C589.92,415.35 591.07,416.53 592.20,418.30 C593.33,420.07 594.32,422.62 595.20,425.90 C596.08,429.18 596.73,433.47 597.50,438.00 C598.27,442.53 599.17,448.07 599.80,453.10 C600.43,458.13 600.88,463.13 601.30,468.20 C601.72,473.27 602.10,479.03 602.30,483.50 C602.50,487.97 602.47,493.08 602.50,495.00" fill="none" stroke="#858585" stroke-width="1.5" stroke-dasharray="6.7 2.5 1 2"/>
<path d="M381.89,399.80 C382.40,398.38 383.94,394.10 384.97,391.25 C386.00,388.40 387.02,385.31 388.05,382.70 C389.09,380.09 390.01,377.07 391.18,375.60 C392.36,374.13 393.81,373.83 395.11,373.90 C396.41,373.97 397.69,374.93 398.99,376.00 C400.28,377.07 401.70,378.67 402.86,380.30 C404.02,381.93 404.78,383.98 405.94,385.80 C407.10,387.62 408.53,389.57 409.82,391.25 C411.11,392.93 412.27,394.47 413.70,395.90 C415.12,397.32 416.81,398.62 418.37,399.80 C419.93,400.98 421.62,402.08 423.04,403.00 C424.47,403.92 425.69,404.72 426.92,405.30 C428.14,405.88 429.10,406.50 430.40,406.50 C431.69,406.50 433.31,405.30 434.67,405.30 C436.03,405.30 437.12,406.13 438.55,406.50 C439.97,406.87 441.92,407.63 443.22,407.50 C444.52,407.37 445.31,406.98 446.35,405.70 C447.39,404.42 448.44,402.21 449.48,399.80 C450.52,397.39 451.53,394.10 452.56,391.25 C453.59,388.40 454.61,385.31 455.64,382.70 C456.68,380.09 457.60,377.07 458.77,375.60 C459.95,374.13 461.40,373.83 462.70,373.90 C464.00,373.97 465.28,374.93 466.58,376.00 C467.87,377.07 469.29,378.67 470.45,380.30 C471.61,381.93 472.37,383.98 473.53,385.80 C474.69,387.62 476.12,389.57 477.41,391.25 C478.70,392.93 479.86,394.47 481.29,395.90 C482.71,397.32 484.40,398.62 485.96,399.80 C487.52,400.98 489.21,402.08 490.63,403.00 C492.06,403.92 493.28,404.72 494.51,405.30 C495.73,405.88 496.69,406.50 497.99,406.50 C499.28,406.50 500.90,405.30 502.26,405.30 C503.62,405.30 504.71,406.13 506.14,406.50 C507.56,406.87 509.51,407.63 510.81,407.50 C512.11,407.37 512.90,406.98 513.94,405.70 C514.98,404.42 516.03,402.21 517.07,399.80 C518.11,397.39 519.12,394.10 520.15,391.25 C521.18,388.40 522.20,385.31 523.23,382.70 C524.27,380.09 525.19,377.07 526.36,375.60 C527.54,374.13 528.99,373.83 530.29,373.90 C531.59,373.97 532.87,374.93 534.17,376.00 C535.46,377.07 536.88,378.67 538.04,380.30 C539.20,381.93 539.96,383.98 541.12,385.80 C542.28,387.62 543.71,389.57 545.00,391.25 C546.29,392.93 547.45,394.47 548.88,395.90 C550.30,397.32 551.99,398.62 553.55,399.80 C555.11,400.98 556.80,402.08 558.22,403.00 C559.65,403.92 560.87,404.72 562.10,405.30 C563.32,405.88 564.28,406.50 565.58,406.50 C566.87,406.50 568.49,405.30 569.85,405.30 C571.21,405.30 572.30,406.13 573.73,406.50 C575.15,406.87 577.10,407.63 578.40,407.50 C579.70,407.37 580.49,406.98 581.53,405.70 C582.57,404.42 583.62,402.21 584.66,399.80 C585.70,397.39 586.71,394.10 587.74,391.25 C588.77,388.40 589.79,385.31 590.82,382.70 C591.86,380.09 592.78,377.07 593.95,375.60 C595.13,374.13 596.58,373.83 597.88,373.90 C599.18,373.97 600.46,374.93 601.76,376.00 C603.05,377.07 604.47,378.67 605.63,380.30 C606.79,381.93 607.55,383.98 608.71,385.80 C609.87,387.62 611.30,389.57 612.59,391.25 C613.88,392.93 615.04,394.47 616.47,395.90 C617.89,397.32 619.58,398.62 621.14,399.80 C622.70,400.98 624.39,402.08 625.81,403.00 C627.24,403.92 628.46,404.72 629.69,405.30 C630.91,405.88 631.87,406.50 633.17,406.50 C634.46,406.50 636.08,405.30 637.44,405.30 C638.80,405.30 639.89,406.13 641.32,406.50 C642.74,406.87 644.69,407.63 645.99,407.50 C647.29,407.37 648.08,406.98 649.12,405.70 C650.16,404.42 651.21,402.21 652.25,399.80 C653.29,397.39 654.30,394.10 655.33,391.25 C656.36,388.40 657.38,385.31 658.41,382.70 C659.45,380.09 660.37,377.07 661.54,375.60 C662.72,374.13 664.17,373.83 665.47,373.90 C666.77,373.97 668.05,374.93 669.35,376.00 C670.64,377.07 672.06,378.67 673.22,380.30 C674.38,381.93 675.14,383.98 676.30,385.80 C677.46,387.62 678.89,389.57 680.18,391.25 C681.47,392.93 683.41,395.12 684.06,395.90" fill="none" stroke="#363636" stroke-width="1.7"/>
</g>
<path d="M433.93,483.70v-3M433.93,265.95v3M473.36,483.70v-3M473.36,265.95v3M512.79,483.70v-3M512.79,265.95v3M552.21,483.70v-3M552.21,265.95v3M591.64,483.70v-3M591.64,265.95v3M631.07,483.70v-3M631.07,265.95v3M394.50,290.14h3M670.50,290.14h-3M394.50,314.34h3M670.50,314.34h-3M394.50,338.53h3M670.50,338.53h-3M394.50,362.73h3M670.50,362.73h-3M394.50,386.92h3M670.50,386.92h-3M394.50,411.12h3M670.50,411.12h-3M394.50,435.31h3M670.50,435.31h-3M394.50,459.51h3M670.50,459.51h-3" stroke="#6a6a6a" stroke-width="1.3" fill="none"/>
<rect x="394.50" y="265.95" width="276.00" height="217.75" fill="none" stroke="#858585" stroke-width="1.4"/>
<rect x="399.10" y="270.35" width="92.4" height="50.6" fill="#fff" stroke="#858585" stroke-width="1.5"/>
<path d="M403.50,279.35H430.30" stroke="#858585" stroke-width="1.5" stroke-dasharray="6.7 2.5 1 2"/>
<text x="432.80" y="283.85" font-size="12.4">Psca-Pcyl</text>
<path d="M403.50,295.55H430.30" stroke="#858585" stroke-width="1.5" stroke-dasharray="6.2 3.2" stroke-dashoffset="6.7"/>
<text x="432.80" y="299.95" font-size="12.4">Pcyl-Pexh</text>
<path d="M403.50,310.55H430.30" stroke="#363636" stroke-width="1.8"/>
<text x="432.80" y="315.05" font-size="12.4">Psca-Pexh</text>
<clipPath id="c5"><rect x="732.85" y="265.95" width="276.10" height="217.75"/></clipPath>
<text x="869.45" y="255.95" text-anchor="middle" font-size="12.33">15% with 2 TCs cut-out</text>
<text x="729.55" y="269.55" text-anchor="end" font-size="12.4">0.08</text>
<text x="729.55" y="293.74" text-anchor="end" font-size="12.4">0.07</text>
<text x="729.55" y="317.94" text-anchor="end" font-size="12.4">0.06</text>
<text x="729.55" y="342.13" text-anchor="end" font-size="12.4">0.05</text>
<text x="729.55" y="366.33" text-anchor="end" font-size="12.4">0.04</text>
<text x="729.55" y="390.52" text-anchor="end" font-size="12.4">0.03</text>
<text x="729.55" y="414.72" text-anchor="end" font-size="12.4">0.02</text>
<text x="729.55" y="438.91" text-anchor="end" font-size="12.4">0.01</text>
<text x="729.55" y="463.11" text-anchor="end" font-size="12.4">0</text>
<text x="729.55" y="487.30" text-anchor="end" font-size="12.4">-0.01</text>
<text transform="translate(696.25,374.12) rotate(-90)" text-anchor="middle" font-size="15.45" font-weight="normal" style="stroke-width:0.55px">Pressure difference (bar)</text>
<g clip-path="url(#c5)">
<path d="M783.60,255.00 C783.64,279.17 783.68,366.67 783.86,400.00 C784.04,433.33 784.41,444.33 784.70,455.00 C784.99,465.67 785.05,462.17 785.60,464.00 C786.15,465.83 786.92,466.18 788.00,466.00 C789.08,465.82 790.17,464.30 792.10,462.90 C794.03,461.50 797.58,459.73 799.60,457.60 C801.62,455.47 802.68,452.62 804.20,450.10 C805.72,447.58 807.20,444.90 808.70,442.50 C810.20,440.10 811.43,437.33 813.20,435.70 C814.97,434.07 817.28,433.33 819.30,432.70 C821.32,432.07 823.03,431.65 825.30,431.90 C827.57,432.15 830.38,433.07 832.90,434.20 C835.42,435.33 838.13,437.32 840.40,438.70 C842.67,440.08 844.73,442.62 846.50,442.50 C848.27,442.38 849.50,441.78 851.00,438.00 C852.50,434.22 853.73,424.58 855.50,419.80 C857.27,415.02 859.70,411.93 861.60,409.30 C863.50,406.67 865.50,404.63 866.90,404.00 C868.30,403.37 868.87,404.37 870.00,405.50 C871.13,406.63 872.22,408.67 873.70,410.80 C875.18,412.93 877.25,416.28 878.90,418.30 C880.55,420.32 881.57,420.88 883.60,422.90 C885.63,424.92 888.83,427.88 891.10,430.40 C893.37,432.92 895.43,435.48 897.20,438.00 C898.97,440.52 900.32,443.12 901.70,445.50 C903.08,447.88 903.98,451.17 905.50,452.30 C907.02,453.43 908.92,452.93 910.80,452.30 C912.68,451.67 915.05,450.38 916.80,448.50 C918.55,446.62 919.78,444.52 921.30,441.00 C922.82,437.48 924.52,432.18 925.90,427.40 C927.28,422.62 928.47,417.08 929.60,412.30 C930.73,407.52 931.87,403.25 932.70,398.70 C933.53,394.15 933.98,389.72 934.60,385.00 C935.22,380.28 935.67,378.97 936.40,370.40 C937.13,361.83 938.25,345.87 939.00,333.60 C939.75,321.33 940.35,308.07 940.90,296.80 C941.45,285.53 942.05,272.97 942.30,266.00 C942.55,259.03 942.38,256.83 942.40,255.00" fill="none" stroke="#858585" stroke-width="1.5" stroke-dasharray="6.4 2.9"/>
<path d="M784.80,495.00 C784.80,485.83 784.77,450.83 784.80,440.00 C784.83,429.17 784.80,432.10 785.00,430.00 C785.20,427.90 785.50,429.40 786.00,427.40 C786.50,425.40 787.23,420.77 788.00,418.00 C788.77,415.23 789.42,413.77 790.60,410.80 C791.78,407.83 793.60,402.60 795.10,400.20 C796.60,397.80 798.45,396.10 799.60,396.40 C800.75,396.70 801.12,399.60 802.00,402.00 C802.88,404.40 803.78,407.32 804.90,410.80 C806.02,414.28 807.43,419.13 808.70,422.90 C809.97,426.67 810.98,430.13 812.50,433.40 C814.02,436.67 815.67,439.98 817.80,442.50 C819.93,445.02 822.53,446.87 825.30,448.50 C828.07,450.13 831.38,451.28 834.40,452.30 C837.42,453.32 841.02,454.02 843.40,454.60 C845.78,455.18 846.68,456.05 848.70,455.80 C850.72,455.55 852.85,453.98 855.50,453.10 C858.15,452.22 861.57,450.75 864.60,450.50 C867.63,450.25 870.78,451.30 873.70,451.60 C876.62,451.90 878.93,452.82 882.10,452.30 C885.27,451.78 889.68,450.02 892.70,448.50 C895.72,446.98 898.20,444.95 900.20,443.20 C902.20,441.45 903.18,438.37 904.70,438.00 C906.22,437.63 907.78,439.37 909.30,441.00 C910.82,442.63 912.30,446.30 913.80,447.80 C915.30,449.30 916.78,450.38 918.30,450.00 C919.82,449.62 921.38,446.75 922.90,445.50 C924.42,444.25 926.15,442.50 927.40,442.50 C928.65,442.50 929.52,443.48 930.40,445.50 C931.28,447.52 932.07,451.08 932.70,454.60 C933.33,458.12 933.70,461.78 934.20,466.60 C934.70,471.42 935.40,478.77 935.70,483.50 C936.00,488.23 935.95,493.08 936.00,495.00" fill="none" stroke="#858585" stroke-width="1.5" stroke-dasharray="6.7 2.5 1 2"/>
<path d="M718.41,430.70 C718.82,429.00 719.92,423.78 720.85,420.50 C721.78,417.22 722.79,414.03 723.99,411.00 C725.19,407.97 726.72,404.77 728.05,402.30 C729.39,399.83 730.74,396.85 732.01,396.20 C733.28,395.55 734.39,396.98 735.66,398.40 C736.93,399.82 738.30,402.60 739.62,404.70 C740.94,406.80 742.24,409.17 743.58,411.00 C744.92,412.83 746.03,414.25 747.64,415.70 C749.25,417.15 751.36,418.58 753.22,419.70 C755.08,420.82 756.94,421.28 758.80,422.40 C760.66,423.52 762.39,424.88 764.38,426.40 C766.38,427.92 768.90,429.87 770.78,431.50 C772.66,433.13 773.97,434.88 775.65,436.20 C777.32,437.52 779.51,439.27 780.82,439.40 C782.14,439.53 782.70,438.45 783.57,437.00 C784.43,435.55 785.19,433.45 786.00,430.70 C786.81,427.95 787.51,423.78 788.44,420.50 C789.37,417.22 790.38,414.03 791.58,411.00 C792.78,407.97 794.31,404.77 795.64,402.30 C796.98,399.83 798.33,396.85 799.60,396.20 C800.87,395.55 801.98,396.98 803.25,398.40 C804.52,399.82 805.89,402.60 807.21,404.70 C808.53,406.80 809.83,409.17 811.17,411.00 C812.51,412.83 813.62,414.25 815.23,415.70 C816.84,417.15 818.95,418.58 820.81,419.70 C822.67,420.82 824.53,421.28 826.39,422.40 C828.25,423.52 829.98,424.88 831.97,426.40 C833.97,427.92 836.49,429.87 838.37,431.50 C840.25,433.13 841.56,434.88 843.24,436.20 C844.91,437.52 847.10,439.27 848.41,439.40 C849.73,439.53 850.29,438.45 851.16,437.00 C852.02,435.55 852.78,433.45 853.59,430.70 C854.40,427.95 855.10,423.78 856.03,420.50 C856.96,417.22 857.97,414.03 859.17,411.00 C860.37,407.97 861.90,404.77 863.23,402.30 C864.57,399.83 865.92,396.85 867.19,396.20 C868.46,395.55 869.57,396.98 870.84,398.40 C872.11,399.82 873.48,402.60 874.80,404.70 C876.12,406.80 877.42,409.17 878.76,411.00 C880.10,412.83 881.21,414.25 882.82,415.70 C884.43,417.15 886.54,418.58 888.40,419.70 C890.26,420.82 892.12,421.28 893.98,422.40 C895.84,423.52 897.57,424.88 899.56,426.40 C901.56,427.92 904.08,429.87 905.96,431.50 C907.84,433.13 909.15,434.88 910.83,436.20 C912.50,437.52 914.69,439.27 916.00,439.40 C917.32,439.53 917.88,438.45 918.75,437.00 C919.61,435.55 920.37,433.45 921.18,430.70 C921.99,427.95 922.69,423.78 923.62,420.50 C924.55,417.22 925.56,414.03 926.76,411.00 C927.96,407.97 929.49,404.77 930.82,402.30 C932.16,399.83 933.51,396.85 934.78,396.20 C936.05,395.55 937.16,396.98 938.43,398.40 C939.70,399.82 941.07,402.60 942.39,404.70 C943.71,406.80 945.01,409.17 946.35,411.00 C947.69,412.83 948.80,414.25 950.41,415.70 C952.02,417.15 954.13,418.58 955.99,419.70 C957.85,420.82 959.71,421.28 961.57,422.40 C963.43,423.52 965.16,424.88 967.15,426.40 C969.15,427.92 971.67,429.87 973.55,431.50 C975.43,433.13 976.74,434.88 978.42,436.20 C980.09,437.52 982.28,439.27 983.60,439.40 C984.91,439.53 985.47,438.45 986.34,437.00 C987.20,435.55 987.96,433.45 988.77,430.70 C989.58,427.95 990.28,423.78 991.21,420.50 C992.14,417.22 993.15,414.03 994.35,411.00 C995.55,407.97 997.08,404.77 998.41,402.30 C999.75,399.83 1001.10,396.85 1002.37,396.20 C1003.64,395.55 1004.75,396.98 1006.02,398.40 C1007.29,399.82 1008.66,402.60 1009.98,404.70 C1011.30,406.80 1012.60,409.17 1013.94,411.00 C1015.28,412.83 1016.39,414.25 1018.00,415.70 C1019.61,417.15 1022.65,419.03 1023.58,419.70" fill="none" stroke="#363636" stroke-width="1.7"/>
</g>
<path d="M772.29,483.70v-3M772.29,265.95v3M811.74,483.70v-3M811.74,265.95v3M851.18,483.70v-3M851.18,265.95v3M890.62,483.70v-3M890.62,265.95v3M930.06,483.70v-3M930.06,265.95v3M969.51,483.70v-3M969.51,265.95v3M732.85,290.14h3M1008.95,290.14h-3M732.85,314.34h3M1008.95,314.34h-3M732.85,338.53h3M1008.95,338.53h-3M732.85,362.73h3M1008.95,362.73h-3M732.85,386.92h3M1008.95,386.92h-3M732.85,411.12h3M1008.95,411.12h-3M732.85,435.31h3M1008.95,435.31h-3M732.85,459.51h3M1008.95,459.51h-3" stroke="#6a6a6a" stroke-width="1.3" fill="none"/>
<rect x="732.85" y="265.95" width="276.10" height="217.75" fill="none" stroke="#858585" stroke-width="1.4"/>
<rect x="737.45" y="270.35" width="92.4" height="50.6" fill="#fff" stroke="#858585" stroke-width="1.5"/>
<path d="M741.85,279.35H768.65" stroke="#858585" stroke-width="1.5" stroke-dasharray="6.7 2.5 1 2"/>
<text x="771.15" y="283.85" font-size="12.4">Psca-Pcyl</text>
<path d="M741.85,295.55H768.65" stroke="#858585" stroke-width="1.5" stroke-dasharray="6.2 3.2" stroke-dashoffset="6.7"/>
<text x="771.15" y="299.95" font-size="12.4">Pcyl-Pexh</text>
<path d="M741.85,310.55H768.65" stroke="#363636" stroke-width="1.8"/>
<text x="771.15" y="315.05" font-size="12.4">Psca-Pexh</text>
<clipPath id="c6"><rect x="56.85" y="509.30" width="276.00" height="218.40"/></clipPath>
<text x="193.80" y="499.30" text-anchor="middle" font-size="12.33">Normal operation with blowers activated at 10% load</text>
<text x="53.55" y="512.90" text-anchor="end" font-size="12.4">0.08</text>
<text x="53.55" y="537.17" text-anchor="end" font-size="12.4">0.07</text>
<text x="53.55" y="561.43" text-anchor="end" font-size="12.4">0.06</text>
<text x="53.55" y="585.70" text-anchor="end" font-size="12.4">0.05</text>
<text x="53.55" y="609.97" text-anchor="end" font-size="12.4">0.04</text>
<text x="53.55" y="634.23" text-anchor="end" font-size="12.4">0.03</text>
<text x="53.55" y="658.50" text-anchor="end" font-size="12.4">0.02</text>
<text x="53.55" y="682.77" text-anchor="end" font-size="12.4">0.01</text>
<text x="53.55" y="707.03" text-anchor="end" font-size="12.4">0</text>
<text x="53.55" y="731.30" text-anchor="end" font-size="12.4">-0.01</text>
<text transform="translate(20.25,617.80) rotate(-90)" text-anchor="middle" font-size="15.45" font-weight="normal" style="stroke-width:0.55px">Pressure difference (bar)</text>
<text x="56.85" y="740.30" text-anchor="middle" font-size="12.4">90</text>
<text x="96.28" y="740.30" text-anchor="middle" font-size="12.4">120</text>
<text x="135.71" y="740.30" text-anchor="middle" font-size="12.4">150</text>
<text x="175.14" y="740.30" text-anchor="middle" font-size="12.4">180</text>
<text x="214.56" y="740.30" text-anchor="middle" font-size="12.4">210</text>
<text x="253.99" y="740.30" text-anchor="middle" font-size="12.4">240</text>
<text x="293.42" y="740.30" text-anchor="middle" font-size="12.4">270</text>
<text x="332.85" y="740.30" text-anchor="middle" font-size="12.4">300</text>
<text x="193.85" y="756.50" text-anchor="middle" font-size="14.2" font-weight="normal" style="stroke-width:0.55px">CA(°)</text>
<g clip-path="url(#c6)">
<path d="M108.50,499.00 C108.54,522.50 108.57,607.33 108.74,640.00 C108.91,672.67 109.15,684.25 109.50,695.00 C109.85,705.75 110.27,702.65 110.85,704.50 C111.43,706.35 111.91,706.05 113.00,706.10 C114.09,706.15 115.90,705.32 117.40,704.80 C118.90,704.28 120.45,705.12 122.00,703.00 C123.55,700.88 125.15,695.72 126.70,692.10 C128.25,688.48 129.75,684.40 131.30,681.30 C132.85,678.20 134.18,675.43 136.00,673.50 C137.82,671.57 139.88,670.52 142.20,669.70 C144.52,668.88 147.07,668.60 149.90,668.60 C152.73,668.60 156.35,669.92 159.20,669.70 C162.05,669.48 164.42,668.47 167.00,667.30 C169.58,666.13 172.38,665.02 174.70,662.70 C177.02,660.38 179.08,656.50 180.90,653.40 C182.72,650.30 184.05,646.28 185.60,644.10 C187.15,641.92 188.65,640.57 190.20,640.30 C191.75,640.03 193.35,641.22 194.90,642.50 C196.45,643.78 197.80,645.83 199.50,648.00 C201.20,650.17 202.75,652.70 205.10,655.50 C207.45,658.30 211.07,661.72 213.60,664.80 C216.13,667.88 218.48,670.78 220.30,674.00 C222.12,677.22 223.23,680.73 224.50,684.10 C225.77,687.47 226.78,691.82 227.90,694.20 C229.02,696.58 229.67,698.12 231.20,698.40 C232.73,698.68 235.00,697.17 237.10,695.90 C239.20,694.63 241.70,692.77 243.80,690.80 C245.90,688.83 248.02,686.90 249.70,684.10 C251.38,681.30 252.77,677.37 253.90,674.00 C255.03,670.63 255.65,667.82 256.50,663.90 C257.35,659.98 258.17,655.82 259.00,650.50 C259.83,645.18 260.83,636.75 261.50,632.00 C262.17,627.25 262.30,628.68 263.00,622.00 C263.70,615.32 264.93,601.52 265.70,591.90 C266.47,582.28 266.98,573.48 267.60,564.30 C268.22,555.12 268.85,545.95 269.40,536.80 C269.95,527.65 270.63,515.70 270.90,509.40 C271.17,503.10 270.98,500.73 271.00,499.00" fill="none" stroke="#858585" stroke-width="1.5" stroke-dasharray="6.4 2.9"/>
<path d="M109.50,740.00 C109.50,731.67 109.47,703.33 109.50,690.00 C109.53,676.67 109.53,666.33 109.70,660.00 C109.87,653.67 109.95,654.50 110.50,652.00 C111.05,649.50 112.00,647.42 113.00,645.00 C114.00,642.58 115.42,639.50 116.50,637.50 C117.58,635.50 118.45,633.97 119.50,633.00 C120.55,632.03 121.88,631.20 122.80,631.70 C123.72,632.20 124.22,633.93 125.00,636.00 C125.78,638.07 126.45,640.17 127.50,644.10 C128.55,648.03 130.02,654.95 131.30,659.60 C132.58,664.25 133.77,668.38 135.20,672.00 C136.63,675.62 137.97,678.33 139.90,681.30 C141.83,684.27 144.35,687.60 146.80,689.80 C149.25,692.00 151.75,693.47 154.60,694.50 C157.45,695.53 160.80,695.83 163.90,696.00 C167.00,696.17 170.10,695.88 173.20,695.50 C176.30,695.12 179.67,694.05 182.50,693.70 C185.33,693.35 187.27,693.17 190.20,693.40 C193.13,693.63 197.05,695.10 200.10,695.10 C203.15,695.10 205.70,694.53 208.50,693.40 C211.30,692.27 214.38,690.40 216.90,688.30 C219.42,686.20 221.92,683.18 223.60,680.80 C225.28,678.42 226.02,676.25 227.00,674.00 C227.98,671.75 228.65,668.83 229.50,667.30 C230.35,665.77 230.55,665.08 232.10,664.80 C233.65,664.52 236.57,665.75 238.80,665.60 C241.03,665.45 243.40,664.52 245.50,663.90 C247.60,663.28 249.72,661.62 251.40,661.90 C253.08,662.18 254.48,662.73 255.60,665.60 C256.72,668.47 257.25,673.77 258.10,679.10 C258.95,684.43 259.85,691.15 260.70,697.60 C261.55,704.05 262.65,712.73 263.20,717.80 C263.75,722.87 263.83,724.30 264.00,728.00 C264.17,731.70 264.17,738.00 264.20,740.00" fill="none" stroke="#858585" stroke-width="1.5" stroke-dasharray="6.7 2.5 1 2"/>
<path d="M44.21,649.70 C44.73,648.40 46.14,644.38 47.31,641.90 C48.48,639.42 49.84,636.65 51.21,634.80 C52.58,632.95 54.14,631.05 55.51,630.80 C56.88,630.55 58.11,632.17 59.41,633.30 C60.71,634.43 62.01,635.92 63.31,637.60 C64.61,639.28 65.90,641.65 67.21,643.40 C68.52,645.15 69.72,646.53 71.16,648.10 C72.59,649.67 74.25,651.50 75.81,652.80 C77.37,654.10 78.94,654.92 80.51,655.90 C82.07,656.88 83.77,657.85 85.21,658.70 C86.64,659.55 87.87,660.35 89.11,661.00 C90.34,661.65 91.43,662.60 92.60,662.60 C93.78,662.60 94.90,661.52 96.15,661.00 C97.40,660.48 98.68,659.95 100.10,659.50 C101.53,659.05 103.28,659.02 104.70,658.30 C106.13,657.58 107.47,656.63 108.65,655.20 C109.84,653.77 110.76,651.92 111.80,649.70 C112.84,647.48 113.73,644.38 114.90,641.90 C116.07,639.42 117.43,636.65 118.80,634.80 C120.17,632.95 121.73,631.05 123.10,630.80 C124.47,630.55 125.70,632.17 127.00,633.30 C128.30,634.43 129.60,635.92 130.90,637.60 C132.20,639.28 133.49,641.65 134.80,643.40 C136.11,645.15 137.31,646.53 138.75,648.10 C140.18,649.67 141.84,651.50 143.40,652.80 C144.96,654.10 146.53,654.92 148.10,655.90 C149.66,656.88 151.36,657.85 152.80,658.70 C154.23,659.55 155.46,660.35 156.70,661.00 C157.93,661.65 159.02,662.60 160.19,662.60 C161.37,662.60 162.49,661.52 163.74,661.00 C164.99,660.48 166.27,659.95 167.69,659.50 C169.12,659.05 170.87,659.02 172.29,658.30 C173.72,657.58 175.06,656.63 176.24,655.20 C177.43,653.77 178.35,651.92 179.39,649.70 C180.43,647.48 181.32,644.38 182.49,641.90 C183.66,639.42 185.02,636.65 186.39,634.80 C187.76,632.95 189.32,631.05 190.69,630.80 C192.06,630.55 193.29,632.17 194.59,633.30 C195.89,634.43 197.19,635.92 198.49,637.60 C199.79,639.28 201.08,641.65 202.39,643.40 C203.70,645.15 204.90,646.53 206.34,648.10 C207.77,649.67 209.43,651.50 210.99,652.80 C212.55,654.10 214.12,654.92 215.69,655.90 C217.25,656.88 218.95,657.85 220.39,658.70 C221.82,659.55 223.05,660.35 224.29,661.00 C225.52,661.65 226.61,662.60 227.78,662.60 C228.96,662.60 230.08,661.52 231.33,661.00 C232.58,660.48 233.86,659.95 235.28,659.50 C236.71,659.05 238.46,659.02 239.88,658.30 C241.31,657.58 242.65,656.63 243.83,655.20 C245.02,653.77 245.94,651.92 246.98,649.70 C248.02,647.48 248.91,644.38 250.08,641.90 C251.25,639.42 252.61,636.65 253.98,634.80 C255.35,632.95 256.91,631.05 258.28,630.80 C259.65,630.55 260.88,632.17 262.18,633.30 C263.48,634.43 264.78,635.92 266.08,637.60 C267.38,639.28 268.67,641.65 269.98,643.40 C271.29,645.15 272.49,646.53 273.93,648.10 C275.36,649.67 277.02,651.50 278.58,652.80 C280.14,654.10 281.71,654.92 283.28,655.90 C284.84,656.88 286.54,657.85 287.98,658.70 C289.41,659.55 290.64,660.35 291.88,661.00 C293.11,661.65 294.20,662.60 295.37,662.60 C296.55,662.60 297.67,661.52 298.92,661.00 C300.17,660.48 301.45,659.95 302.87,659.50 C304.30,659.05 306.05,659.02 307.47,658.30 C308.90,657.58 310.24,656.63 311.42,655.20 C312.61,653.77 313.53,651.92 314.57,649.70 C315.61,647.48 316.50,644.38 317.67,641.90 C318.84,639.42 320.20,636.65 321.57,634.80 C322.94,632.95 324.50,631.05 325.87,630.80 C327.24,630.55 328.47,632.17 329.77,633.30 C331.07,634.43 332.37,635.92 333.67,637.60 C334.97,639.28 336.26,641.65 337.57,643.40 C338.88,645.15 340.08,646.53 341.52,648.10 C342.95,649.67 345.39,652.02 346.17,652.80" fill="none" stroke="#363636" stroke-width="1.7"/>
</g>
<path d="M96.28,727.70v-3M96.28,509.30v3M135.71,727.70v-3M135.71,509.30v3M175.14,727.70v-3M175.14,509.30v3M214.56,727.70v-3M214.56,509.30v3M253.99,727.70v-3M253.99,509.30v3M293.42,727.70v-3M293.42,509.30v3M56.85,533.57h3M332.85,533.57h-3M56.85,557.83h3M332.85,557.83h-3M56.85,582.10h3M332.85,582.10h-3M56.85,606.37h3M332.85,606.37h-3M56.85,630.63h3M332.85,630.63h-3M56.85,654.90h3M332.85,654.90h-3M56.85,679.17h3M332.85,679.17h-3M56.85,703.43h3M332.85,703.43h-3" stroke="#6a6a6a" stroke-width="1.3" fill="none"/>
<rect x="56.85" y="509.30" width="276.00" height="218.40" fill="none" stroke="#858585" stroke-width="1.4"/>
<rect x="61.45" y="513.70" width="92.4" height="50.6" fill="#fff" stroke="#858585" stroke-width="1.5"/>
<path d="M65.85,522.70H92.65" stroke="#858585" stroke-width="1.5" stroke-dasharray="6.7 2.5 1 2"/>
<text x="95.15" y="527.20" font-size="12.4">Psca-Pcyl</text>
<path d="M65.85,538.90H92.65" stroke="#858585" stroke-width="1.5" stroke-dasharray="6.2 3.2" stroke-dashoffset="6.7"/>
<text x="95.15" y="543.30" font-size="12.4">Pcyl-Pexh</text>
<path d="M65.85,553.90H92.65" stroke="#363636" stroke-width="1.8"/>
<text x="95.15" y="558.40" font-size="12.4">Psca-Pexh</text>
<clipPath id="c7"><rect x="394.50" y="509.30" width="276.00" height="218.40"/></clipPath>
<text x="531.80" y="499.30" text-anchor="middle" font-size="12.33">10% with 1 TC cut-out and blower activation</text>
<text x="391.20" y="512.90" text-anchor="end" font-size="12.4">0.08</text>
<text x="391.20" y="537.17" text-anchor="end" font-size="12.4">0.07</text>
<text x="391.20" y="561.43" text-anchor="end" font-size="12.4">0.06</text>
<text x="391.20" y="585.70" text-anchor="end" font-size="12.4">0.05</text>
<text x="391.20" y="609.97" text-anchor="end" font-size="12.4">0.04</text>
<text x="391.20" y="634.23" text-anchor="end" font-size="12.4">0.03</text>
<text x="391.20" y="658.50" text-anchor="end" font-size="12.4">0.02</text>
<text x="391.20" y="682.77" text-anchor="end" font-size="12.4">0.01</text>
<text x="391.20" y="707.03" text-anchor="end" font-size="12.4">0</text>
<text x="391.20" y="731.30" text-anchor="end" font-size="12.4">-0.01</text>
<text transform="translate(357.90,617.80) rotate(-90)" text-anchor="middle" font-size="15.45" font-weight="normal" style="stroke-width:0.55px">Pressure difference (bar)</text>
<text x="394.50" y="740.30" text-anchor="middle" font-size="12.4">90</text>
<text x="433.93" y="740.30" text-anchor="middle" font-size="12.4">120</text>
<text x="473.36" y="740.30" text-anchor="middle" font-size="12.4">150</text>
<text x="512.79" y="740.30" text-anchor="middle" font-size="12.4">180</text>
<text x="552.21" y="740.30" text-anchor="middle" font-size="12.4">210</text>
<text x="591.64" y="740.30" text-anchor="middle" font-size="12.4">240</text>
<text x="631.07" y="740.30" text-anchor="middle" font-size="12.4">270</text>
<text x="670.50" y="740.30" text-anchor="middle" font-size="12.4">300</text>
<text x="531.50" y="756.50" text-anchor="middle" font-size="14.2" font-weight="normal" style="stroke-width:0.55px">CA(°)</text>
<g clip-path="url(#c7)">
<path d="M446.20,499.00 C446.23,522.50 446.26,608.17 446.38,640.00 C446.50,671.83 446.66,679.67 446.90,690.00 C447.14,700.33 447.28,699.48 447.80,702.00 C448.32,704.52 448.93,704.58 450.00,705.10 C451.07,705.62 452.55,705.57 454.20,705.10 C455.85,704.63 458.13,703.95 459.90,702.30 C461.67,700.65 463.27,697.68 464.80,695.20 C466.33,692.72 467.57,689.77 469.10,687.40 C470.63,685.03 472.00,682.58 474.00,681.00 C476.00,679.42 478.50,678.50 481.10,677.90 C483.70,677.30 486.52,677.35 489.60,677.40 C492.68,677.45 496.52,678.03 499.60,678.20 C502.68,678.37 505.73,678.88 508.10,678.40 C510.47,677.92 512.27,677.47 513.80,675.30 C515.33,673.13 515.88,668.47 517.30,665.40 C518.72,662.33 520.40,659.38 522.30,656.90 C524.20,654.42 526.92,650.82 528.70,650.50 C530.48,650.18 531.70,653.17 533.00,655.00 C534.30,656.83 534.87,659.28 536.50,661.50 C538.13,663.72 540.57,666.22 542.80,668.30 C545.03,670.38 547.77,672.12 549.90,674.00 C552.03,675.88 553.83,677.48 555.60,679.60 C557.37,681.72 558.97,684.33 560.50,686.70 C562.03,689.07 563.38,691.67 564.80,693.80 C566.22,695.93 567.47,698.67 569.00,699.50 C570.53,700.33 572.22,699.52 574.00,698.80 C575.78,698.08 577.80,696.73 579.70,695.20 C581.60,693.67 583.75,691.48 585.40,689.60 C587.05,687.72 588.30,686.27 589.60,683.90 C590.90,681.53 592.25,678.95 593.20,675.40 C594.15,671.85 594.60,666.87 595.30,662.60 C596.00,658.33 596.70,654.23 597.40,649.80 C598.10,645.37 598.60,642.57 599.50,636.00 C600.40,629.43 601.88,620.80 602.80,610.40 C603.72,600.00 604.33,585.87 605.00,573.60 C605.67,561.33 606.18,547.50 606.80,536.80 C607.42,526.10 608.37,515.70 608.70,509.40 C609.03,503.10 608.78,500.73 608.80,499.00" fill="none" stroke="#858585" stroke-width="1.5" stroke-dasharray="6.4 2.9"/>
<path d="M446.70,740.00 C446.70,733.33 446.68,711.67 446.70,700.00 C446.72,688.33 446.67,676.67 446.80,670.00 C446.93,663.33 446.97,662.83 447.50,660.00 C448.03,657.17 449.00,655.00 450.00,653.00 C451.00,651.00 452.25,649.42 453.50,648.00 C454.75,646.58 456.25,645.17 457.50,644.50 C458.75,643.83 460.13,643.47 461.00,644.00 C461.87,644.53 461.83,645.55 462.70,647.70 C463.57,649.85 465.02,653.48 466.20,656.90 C467.38,660.32 468.62,664.42 469.80,668.20 C470.98,671.98 472.12,676.52 473.30,679.60 C474.48,682.68 475.35,684.58 476.90,686.70 C478.45,688.82 480.23,690.65 482.60,692.30 C484.97,693.95 488.03,695.70 491.10,696.60 C494.17,697.50 497.93,697.42 501.00,697.70 C504.07,697.98 506.43,698.60 509.50,698.30 C512.57,698.00 516.33,696.47 519.40,695.90 C522.47,695.33 525.80,695.00 527.90,694.90 C530.00,694.80 530.23,695.00 532.00,695.30 C533.77,695.60 535.75,696.72 538.50,696.70 C541.25,696.68 545.65,696.03 548.50,695.20 C551.35,694.37 553.60,693.12 555.60,691.70 C557.60,690.28 559.08,688.48 560.50,686.70 C561.92,684.92 562.92,682.83 564.10,681.00 C565.28,679.17 566.18,676.28 567.60,675.70 C569.02,675.12 570.70,676.73 572.60,677.50 C574.50,678.27 577.12,680.42 579.00,680.30 C580.88,680.18 582.13,678.22 583.90,676.80 C585.67,675.38 588.05,672.28 589.60,671.80 C591.15,671.32 592.25,672.12 593.20,673.90 C594.15,675.68 594.60,678.95 595.30,682.50 C596.00,686.05 596.68,690.47 597.40,695.20 C598.12,699.93 599.05,705.60 599.60,710.90 C600.15,716.20 600.48,722.15 600.70,727.00 C600.92,731.85 600.87,737.83 600.90,740.00" fill="none" stroke="#858585" stroke-width="1.5" stroke-dasharray="6.7 2.5 1 2"/>
<path d="M380.61,666.70 C381.13,665.13 382.54,660.29 383.71,657.30 C384.88,654.31 386.43,650.88 387.61,648.75 C388.79,646.62 389.83,645.42 390.81,644.50 C391.79,643.58 392.41,642.88 393.51,643.20 C394.61,643.52 396.11,644.82 397.41,646.40 C398.71,647.98 400.01,650.62 401.31,652.70 C402.61,654.78 403.78,657.08 405.21,658.90 C406.64,660.72 408.21,662.23 409.91,663.60 C411.61,664.97 413.45,666.07 415.41,667.10 C417.36,668.13 419.71,668.98 421.66,669.80 C423.61,670.62 425.28,671.53 427.11,672.00 C428.93,672.47 430.90,672.33 432.60,672.60 C434.30,672.87 435.87,673.28 437.30,673.60 C438.74,673.92 439.90,674.73 441.20,674.50 C442.50,674.27 443.94,673.50 445.10,672.20 C446.27,670.90 447.17,669.18 448.20,666.70 C449.24,664.22 450.13,660.29 451.30,657.30 C452.47,654.31 454.02,650.88 455.20,648.75 C456.38,646.62 457.42,645.42 458.40,644.50 C459.38,643.58 460.00,642.88 461.10,643.20 C462.20,643.52 463.70,644.82 465.00,646.40 C466.30,647.98 467.60,650.62 468.90,652.70 C470.20,654.78 471.37,657.08 472.80,658.90 C474.23,660.72 475.80,662.23 477.50,663.60 C479.20,664.97 481.04,666.07 483.00,667.10 C484.95,668.13 487.30,668.98 489.25,669.80 C491.20,670.62 492.87,671.53 494.70,672.00 C496.52,672.47 498.49,672.33 500.19,672.60 C501.89,672.87 503.46,673.28 504.89,673.60 C506.33,673.92 507.49,674.73 508.79,674.50 C510.09,674.27 511.53,673.50 512.69,672.20 C513.86,670.90 514.76,669.18 515.79,666.70 C516.83,664.22 517.72,660.29 518.89,657.30 C520.06,654.31 521.61,650.88 522.79,648.75 C523.97,646.62 525.01,645.42 525.99,644.50 C526.97,643.58 527.59,642.88 528.69,643.20 C529.79,643.52 531.29,644.82 532.59,646.40 C533.89,647.98 535.19,650.62 536.49,652.70 C537.79,654.78 538.96,657.08 540.39,658.90 C541.82,660.72 543.39,662.23 545.09,663.60 C546.79,664.97 548.63,666.07 550.59,667.10 C552.54,668.13 554.89,668.98 556.84,669.80 C558.79,670.62 560.46,671.53 562.29,672.00 C564.11,672.47 566.08,672.33 567.78,672.60 C569.48,672.87 571.05,673.28 572.48,673.60 C573.92,673.92 575.08,674.73 576.38,674.50 C577.68,674.27 579.12,673.50 580.28,672.20 C581.45,670.90 582.35,669.18 583.38,666.70 C584.42,664.22 585.31,660.29 586.48,657.30 C587.65,654.31 589.20,650.88 590.38,648.75 C591.56,646.62 592.60,645.42 593.58,644.50 C594.56,643.58 595.18,642.88 596.28,643.20 C597.38,643.52 598.88,644.82 600.18,646.40 C601.48,647.98 602.78,650.62 604.08,652.70 C605.38,654.78 606.55,657.08 607.98,658.90 C609.41,660.72 610.98,662.23 612.68,663.60 C614.38,664.97 616.22,666.07 618.18,667.10 C620.13,668.13 622.48,668.98 624.43,669.80 C626.38,670.62 628.05,671.53 629.88,672.00 C631.70,672.47 633.67,672.33 635.37,672.60 C637.07,672.87 638.64,673.28 640.07,673.60 C641.51,673.92 642.67,674.73 643.97,674.50 C645.27,674.27 646.71,673.50 647.87,672.20 C649.04,670.90 649.94,669.18 650.97,666.70 C652.01,664.22 652.90,660.29 654.07,657.30 C655.24,654.31 656.79,650.88 657.97,648.75 C659.15,646.62 660.19,645.42 661.17,644.50 C662.15,643.58 662.77,642.88 663.87,643.20 C664.97,643.52 666.47,644.82 667.77,646.40 C669.07,647.98 670.37,650.62 671.67,652.70 C672.97,654.78 674.14,657.08 675.57,658.90 C677.00,660.72 679.48,662.82 680.27,663.60" fill="none" stroke="#363636" stroke-width="1.7"/>
</g>
<path d="M433.93,727.70v-3M433.93,509.30v3M473.36,727.70v-3M473.36,509.30v3M512.79,727.70v-3M512.79,509.30v3M552.21,727.70v-3M552.21,509.30v3M591.64,727.70v-3M591.64,509.30v3M631.07,727.70v-3M631.07,509.30v3M394.50,533.57h3M670.50,533.57h-3M394.50,557.83h3M670.50,557.83h-3M394.50,582.10h3M670.50,582.10h-3M394.50,606.37h3M670.50,606.37h-3M394.50,630.63h3M670.50,630.63h-3M394.50,654.90h3M670.50,654.90h-3M394.50,679.17h3M670.50,679.17h-3M394.50,703.43h3M670.50,703.43h-3" stroke="#6a6a6a" stroke-width="1.3" fill="none"/>
<rect x="394.50" y="509.30" width="276.00" height="218.40" fill="none" stroke="#858585" stroke-width="1.4"/>
<rect x="399.10" y="513.70" width="92.4" height="50.6" fill="#fff" stroke="#858585" stroke-width="1.5"/>
<path d="M403.50,522.70H430.30" stroke="#858585" stroke-width="1.5" stroke-dasharray="6.7 2.5 1 2"/>
<text x="432.80" y="527.20" font-size="12.4">Psca-Pcyl</text>
<path d="M403.50,538.90H430.30" stroke="#858585" stroke-width="1.5" stroke-dasharray="6.2 3.2" stroke-dashoffset="6.7"/>
<text x="432.80" y="543.30" font-size="12.4">Pcyl-Pexh</text>
<path d="M403.50,553.90H430.30" stroke="#363636" stroke-width="1.8"/>
<text x="432.80" y="558.40" font-size="12.4">Psca-Pexh</text>
<clipPath id="c8"><rect x="733.00" y="509.30" width="277.00" height="218.40"/></clipPath>
<text x="870.05" y="499.30" text-anchor="middle" font-size="12.33">10% with 2 TCs cut-out and blower activation</text>
<text x="729.70" y="512.90" text-anchor="end" font-size="12.4">0.08</text>
<text x="729.70" y="537.17" text-anchor="end" font-size="12.4">0.07</text>
<text x="729.70" y="561.43" text-anchor="end" font-size="12.4">0.06</text>
<text x="729.70" y="585.70" text-anchor="end" font-size="12.4">0.05</text>
<text x="729.70" y="609.97" text-anchor="end" font-size="12.4">0.04</text>
<text x="729.70" y="634.23" text-anchor="end" font-size="12.4">0.03</text>
<text x="729.70" y="658.50" text-anchor="end" font-size="12.4">0.02</text>
<text x="729.70" y="682.77" text-anchor="end" font-size="12.4">0.01</text>
<text x="729.70" y="707.03" text-anchor="end" font-size="12.4">0</text>
<text x="729.70" y="731.30" text-anchor="end" font-size="12.4">-0.01</text>
<text transform="translate(696.40,617.80) rotate(-90)" text-anchor="middle" font-size="15.45" font-weight="normal" style="stroke-width:0.55px">Pressure difference (bar)</text>
<text x="733.00" y="740.30" text-anchor="middle" font-size="12.4">90</text>
<text x="772.57" y="740.30" text-anchor="middle" font-size="12.4">120</text>
<text x="812.14" y="740.30" text-anchor="middle" font-size="12.4">150</text>
<text x="851.71" y="740.30" text-anchor="middle" font-size="12.4">180</text>
<text x="891.29" y="740.30" text-anchor="middle" font-size="12.4">210</text>
<text x="930.86" y="740.30" text-anchor="middle" font-size="12.4">240</text>
<text x="970.43" y="740.30" text-anchor="middle" font-size="12.4">270</text>
<text x="1010.00" y="740.30" text-anchor="middle" font-size="12.4">300</text>
<text x="870.50" y="756.50" text-anchor="middle" font-size="14.2" font-weight="normal" style="stroke-width:0.55px">CA(°)</text>
<g clip-path="url(#c8)">
<path d="M782.60,499.00 C782.63,522.50 782.67,607.33 782.80,640.00 C782.93,672.67 783.12,684.17 783.40,695.00 C783.67,705.83 783.93,702.85 784.45,705.00 C784.97,707.15 785.51,707.75 786.50,707.90 C787.49,708.05 788.67,706.65 790.40,705.90 C792.13,705.15 795.18,704.37 796.90,703.40 C798.62,702.43 799.42,701.60 800.70,700.10 C801.98,698.60 803.30,696.22 804.60,694.40 C805.90,692.58 807.22,690.72 808.50,689.20 C809.78,687.68 810.58,686.27 812.30,685.30 C814.02,684.33 816.43,683.72 818.80,683.40 C821.17,683.08 823.93,683.08 826.50,683.40 C829.07,683.72 831.85,684.55 834.20,685.30 C836.55,686.05 838.67,687.03 840.60,687.90 C842.53,688.77 844.18,690.60 845.80,690.50 C847.42,690.40 849.02,689.45 850.30,687.30 C851.58,685.15 852.10,681.37 853.50,677.60 C854.90,673.83 856.98,667.80 858.70,664.70 C860.42,661.60 862.42,660.23 863.80,659.00 C865.18,657.77 865.85,657.05 867.00,657.30 C868.15,657.55 869.13,658.67 870.70,660.50 C872.27,662.33 874.52,665.82 876.40,668.30 C878.28,670.78 879.88,673.40 882.00,675.40 C884.12,677.40 886.97,678.77 889.10,680.30 C891.23,681.83 892.90,682.70 894.80,684.60 C896.70,686.50 898.97,689.57 900.50,691.70 C902.03,693.83 902.82,696.10 904.00,697.40 C905.18,698.70 906.05,699.50 907.60,699.50 C909.15,699.50 911.42,698.47 913.30,697.40 C915.18,696.33 917.02,694.88 918.90,693.10 C920.78,691.32 922.93,688.95 924.60,686.70 C926.27,684.45 927.72,682.43 928.90,679.60 C930.08,676.77 930.87,673.25 931.70,669.70 C932.53,666.15 933.18,662.32 933.90,658.30 C934.62,654.28 935.38,649.65 936.00,645.60 C936.62,641.55 936.88,639.87 937.60,634.00 C938.32,628.13 939.45,620.47 940.30,610.40 C941.15,600.33 941.98,585.87 942.70,573.60 C943.42,561.33 944.07,547.50 944.60,536.80 C945.13,526.10 945.67,515.70 945.90,509.40 C946.13,503.10 945.98,500.73 946.00,499.00" fill="none" stroke="#858585" stroke-width="1.5" stroke-dasharray="6.4 2.9"/>
<path d="M783.30,740.00 C783.30,733.33 783.27,708.33 783.30,700.00 C783.33,691.67 783.30,693.33 783.50,690.00 C783.70,686.67 783.83,683.67 784.50,680.00 C785.17,676.33 786.08,671.75 787.50,668.00 C788.92,664.25 791.17,660.33 793.00,657.50 C794.83,654.67 797.25,652.00 798.50,651.00 C799.75,650.00 799.92,650.82 800.50,651.50 C801.08,652.18 801.10,652.25 802.00,655.10 C802.90,657.95 804.62,664.20 805.90,668.60 C807.18,673.00 808.63,678.50 809.70,681.50 C810.77,684.50 811.00,684.88 812.30,686.60 C813.60,688.32 815.13,690.08 817.50,691.80 C819.87,693.52 823.50,695.62 826.50,696.90 C829.50,698.18 832.50,698.90 835.50,699.50 C838.50,700.10 841.72,700.60 844.50,700.50 C847.28,700.40 849.62,699.53 852.20,698.90 C854.78,698.27 857.42,697.27 860.00,696.70 C862.58,696.13 865.45,695.38 867.70,695.50 C869.95,695.62 870.87,697.02 873.50,697.40 C876.13,697.78 880.42,698.03 883.50,697.80 C886.58,697.57 889.40,696.90 892.00,696.00 C894.60,695.10 897.22,693.58 899.10,692.40 C900.98,691.22 902.00,689.85 903.30,688.90 C904.60,687.95 905.72,686.70 906.90,686.70 C908.08,686.70 909.22,687.95 910.40,688.90 C911.58,689.85 912.82,691.70 914.00,692.40 C915.18,693.10 916.20,693.93 917.50,693.10 C918.80,692.27 920.38,689.17 921.80,687.40 C923.22,685.63 924.70,683.20 926.00,682.50 C927.30,681.80 928.65,682.50 929.60,683.20 C930.55,683.90 930.87,684.22 931.70,686.70 C932.53,689.18 933.77,694.07 934.60,698.10 C935.43,702.13 936.12,706.08 936.70,710.90 C937.28,715.72 937.83,722.15 938.10,727.00 C938.37,731.85 938.27,737.83 938.30,740.00" fill="none" stroke="#858585" stroke-width="1.5" stroke-dasharray="6.7 2.5 1 2"/>
<path d="M718.45,677.50 C718.86,676.07 719.95,671.50 720.88,668.90 C721.81,666.30 722.84,664.25 724.02,661.90 C725.20,659.55 726.65,656.67 727.96,654.80 C729.28,652.93 730.53,650.88 731.91,650.70 C733.29,650.52 735.01,652.36 736.26,653.70 C737.51,655.04 738.22,656.87 739.40,658.75 C740.58,660.63 742.03,663.11 743.34,665.00 C744.66,666.89 745.70,668.60 747.29,670.10 C748.87,671.60 750.75,672.83 752.85,674.00 C754.96,675.17 757.83,676.00 759.94,677.10 C762.05,678.20 763.65,679.49 765.50,680.60 C767.36,681.71 769.22,682.70 771.07,683.75 C772.91,684.80 775.06,686.19 776.58,686.90 C778.10,687.61 778.99,688.27 780.17,688.00 C781.36,687.73 782.74,687.05 783.72,685.30 C784.69,683.55 785.25,680.23 786.04,677.50 C786.84,674.77 787.54,671.50 788.47,668.90 C789.40,666.30 790.43,664.25 791.61,661.90 C792.79,659.55 794.24,656.67 795.55,654.80 C796.87,652.93 798.12,650.88 799.50,650.70 C800.88,650.52 802.60,652.36 803.85,653.70 C805.10,655.04 805.81,656.87 806.99,658.75 C808.17,660.63 809.62,663.11 810.93,665.00 C812.25,666.89 813.29,668.60 814.88,670.10 C816.46,671.60 818.34,672.83 820.44,674.00 C822.55,675.17 825.42,676.00 827.53,677.10 C829.64,678.20 831.24,679.49 833.09,680.60 C834.95,681.71 836.81,682.70 838.66,683.75 C840.50,684.80 842.65,686.19 844.17,686.90 C845.69,687.61 846.58,688.27 847.76,688.00 C848.95,687.73 850.33,687.05 851.31,685.30 C852.28,683.55 852.84,680.23 853.63,677.50 C854.43,674.77 855.13,671.50 856.06,668.90 C856.99,666.30 858.02,664.25 859.20,661.90 C860.38,659.55 861.83,656.67 863.14,654.80 C864.46,652.93 865.71,650.88 867.09,650.70 C868.47,650.52 870.19,652.36 871.44,653.70 C872.69,655.04 873.40,656.87 874.58,658.75 C875.76,660.63 877.21,663.11 878.52,665.00 C879.84,666.89 880.88,668.60 882.47,670.10 C884.05,671.60 885.93,672.83 888.03,674.00 C890.14,675.17 893.01,676.00 895.12,677.10 C897.23,678.20 898.83,679.49 900.68,680.60 C902.54,681.71 904.40,682.70 906.25,683.75 C908.09,684.80 910.24,686.19 911.76,686.90 C913.28,687.61 914.17,688.27 915.35,688.00 C916.54,687.73 917.92,687.05 918.90,685.30 C919.87,683.55 920.43,680.23 921.22,677.50 C922.02,674.77 922.72,671.50 923.65,668.90 C924.58,666.30 925.61,664.25 926.79,661.90 C927.97,659.55 929.42,656.67 930.73,654.80 C932.05,652.93 933.30,650.88 934.68,650.70 C936.06,650.52 937.78,652.36 939.03,653.70 C940.28,655.04 940.99,656.87 942.17,658.75 C943.35,660.63 944.80,663.11 946.11,665.00 C947.43,666.89 948.47,668.60 950.06,670.10 C951.64,671.60 953.52,672.83 955.62,674.00 C957.73,675.17 960.60,676.00 962.71,677.10 C964.82,678.20 966.42,679.49 968.27,680.60 C970.13,681.71 971.99,682.70 973.84,683.75 C975.68,684.80 977.83,686.19 979.35,686.90 C980.87,687.61 981.76,688.27 982.94,688.00 C984.13,687.73 985.51,687.05 986.49,685.30 C987.46,683.55 988.02,680.23 988.81,677.50 C989.61,674.77 990.31,671.50 991.24,668.90 C992.17,666.30 993.20,664.25 994.38,661.90 C995.56,659.55 997.01,656.67 998.32,654.80 C999.64,652.93 1000.89,650.88 1002.27,650.70 C1003.65,650.52 1005.37,652.36 1006.62,653.70 C1007.87,655.04 1008.58,656.87 1009.76,658.75 C1010.94,660.63 1012.39,663.11 1013.70,665.00 C1015.02,666.89 1016.06,668.60 1017.65,670.10 C1019.23,671.60 1022.29,673.35 1023.21,674.00" fill="none" stroke="#363636" stroke-width="1.7"/>
</g>
<path d="M772.57,727.70v-3M772.57,509.30v3M812.14,727.70v-3M812.14,509.30v3M851.71,727.70v-3M851.71,509.30v3M891.29,727.70v-3M891.29,509.30v3M930.86,727.70v-3M930.86,509.30v3M970.43,727.70v-3M970.43,509.30v3M733.00,533.57h3M1010.00,533.57h-3M733.00,557.83h3M1010.00,557.83h-3M733.00,582.10h3M1010.00,582.10h-3M733.00,606.37h3M1010.00,606.37h-3M733.00,630.63h3M1010.00,630.63h-3M733.00,654.90h3M1010.00,654.90h-3M733.00,679.17h3M1010.00,679.17h-3M733.00,703.43h3M1010.00,703.43h-3" stroke="#6a6a6a" stroke-width="1.3" fill="none"/>
<rect x="733.00" y="509.30" width="277.00" height="218.40" fill="none" stroke="#858585" stroke-width="1.4"/>
<rect x="737.60" y="513.70" width="92.4" height="50.6" fill="#fff" stroke="#858585" stroke-width="1.5"/>
<path d="M742.00,522.70H768.80" stroke="#858585" stroke-width="1.5" stroke-dasharray="6.7 2.5 1 2"/>
<text x="771.30" y="527.20" font-size="12.4">Psca-Pcyl</text>
<path d="M742.00,538.90H768.80" stroke="#858585" stroke-width="1.5" stroke-dasharray="6.2 3.2" stroke-dashoffset="6.7"/>
<text x="771.30" y="543.30" font-size="12.4">Pcyl-Pexh</text>
<path d="M742.00,553.90H768.80" stroke="#363636" stroke-width="1.8"/>
<text x="771.30" y="558.40" font-size="12.4">Psca-Pexh</text>
</g>
</svg></body></html>
